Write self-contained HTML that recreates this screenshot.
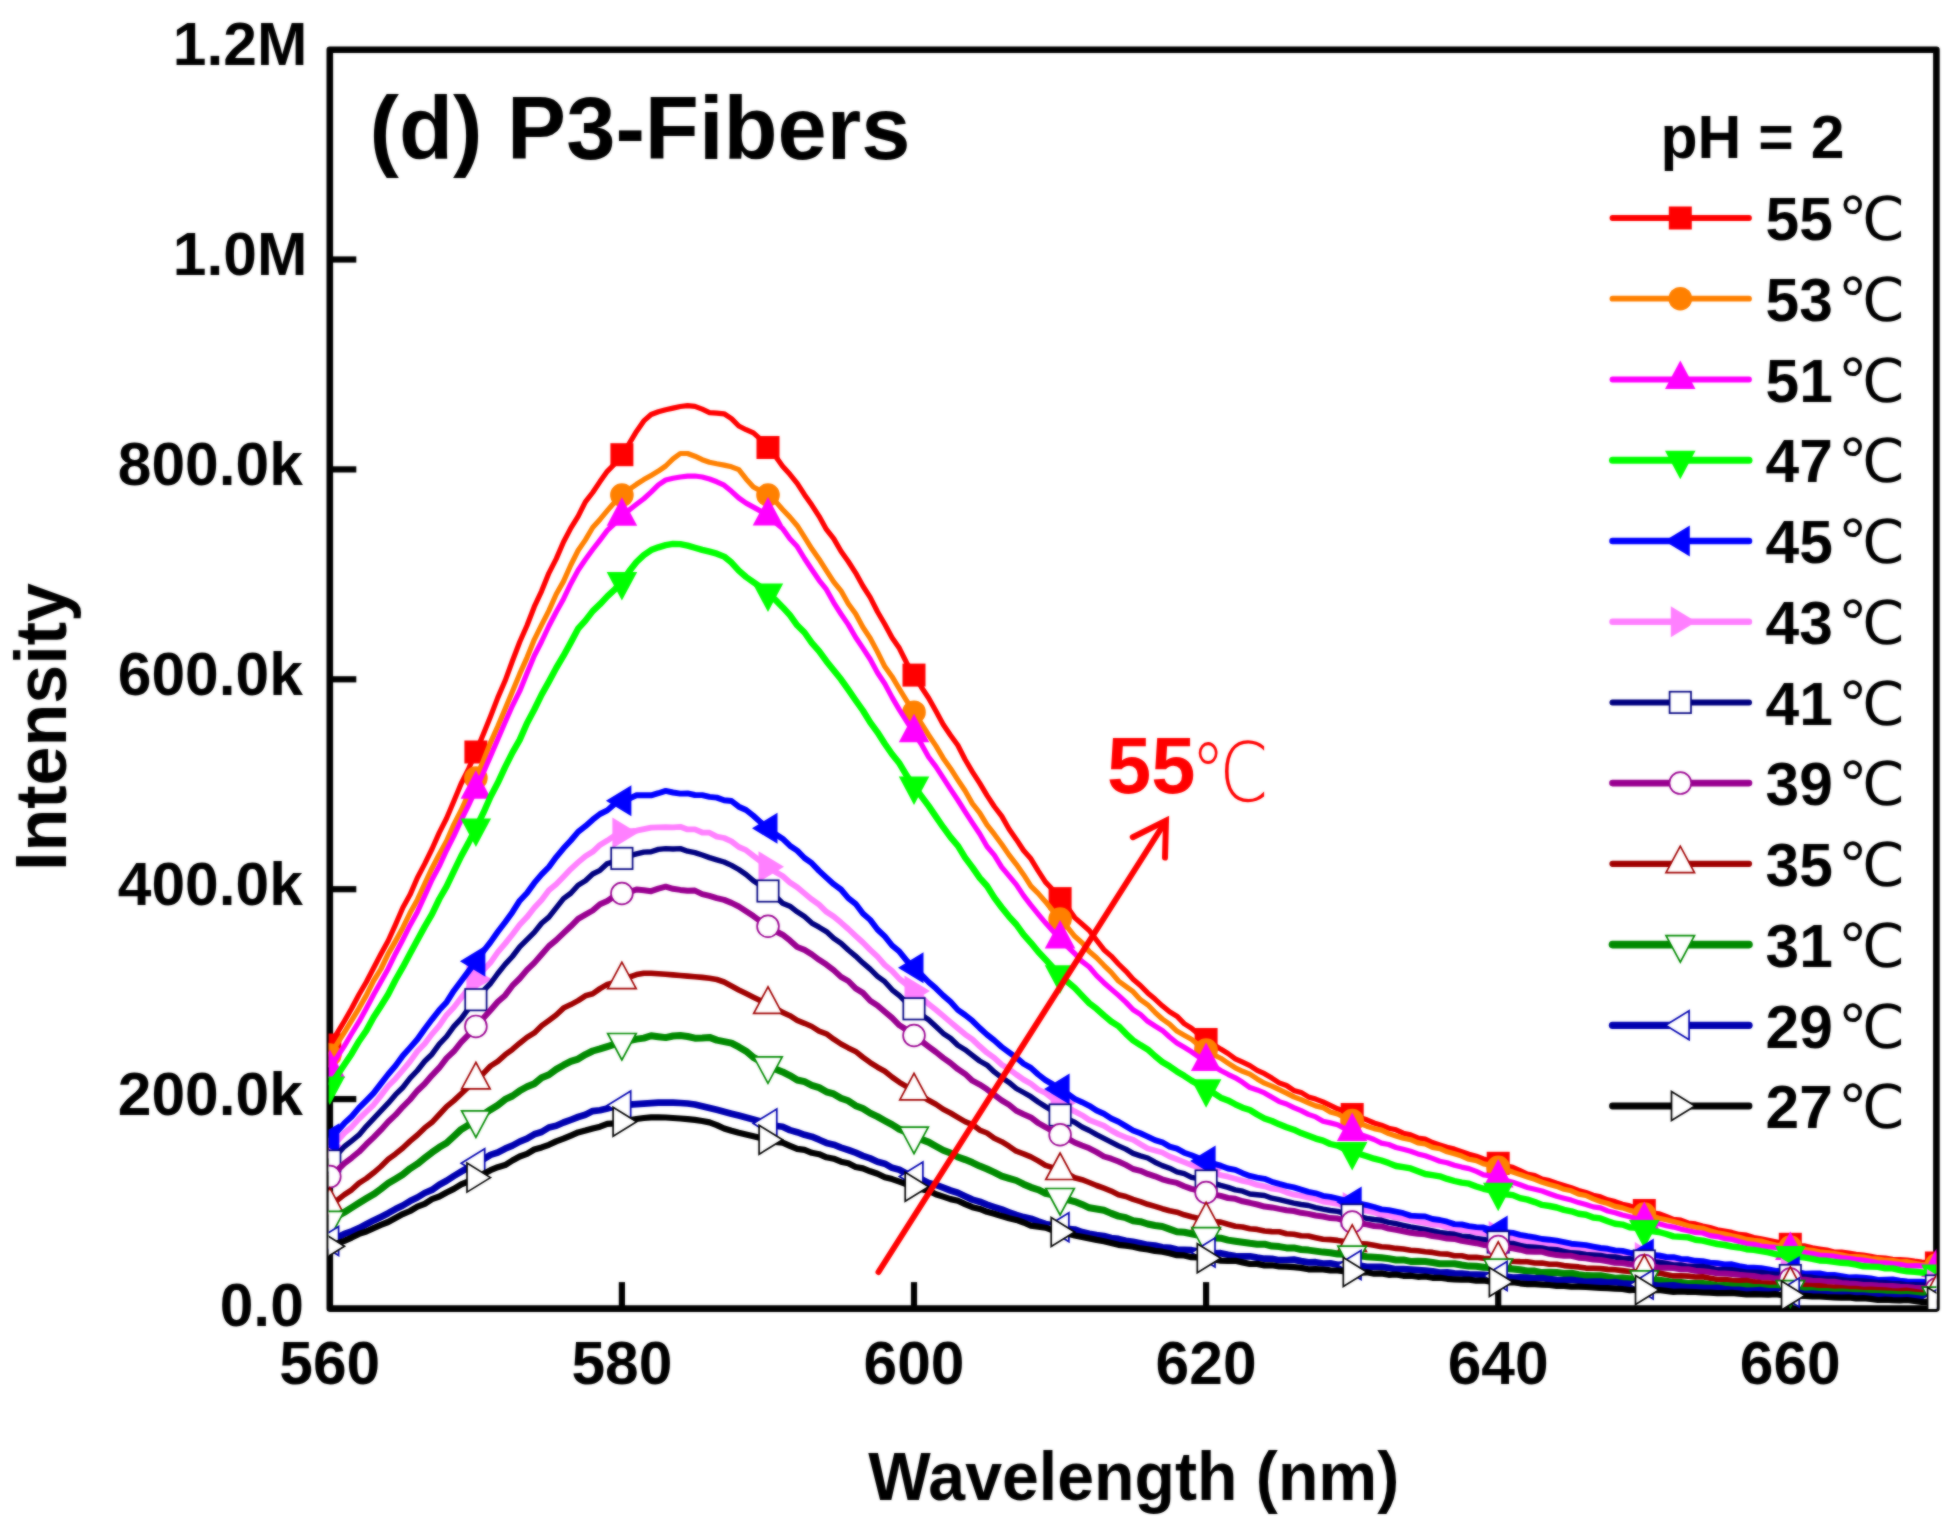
<!DOCTYPE html>
<html lang="en"><head><meta charset="utf-8"><title>(d) P3-Fibers</title>
<style>html,body{margin:0;padding:0;background:#fff}svg{display:block}text{font-family:"Liberation Sans","Noto Sans CJK SC",sans-serif;font-weight:bold;fill:#000}.deg{font-family:"DejaVu Sans","Noto Sans CJK SC",sans-serif;font-weight:400}.degs{font-family:"DejaVu Sans","Noto Serif CJK SC",serif;font-weight:200}</style></head><body>
<svg width="1954" height="1527" viewBox="0 0 1954 1527">
<rect width="1954" height="1527" fill="#fff"/>
<defs><clipPath id="plot"><rect x="328.6" y="49.7" width="1607.8" height="1259.4"/></clipPath><filter id="soft" color-interpolation-filters="sRGB" filterUnits="userSpaceOnUse" x="0" y="0" width="1954" height="1527"><feGaussianBlur stdDeviation="0.85" result="b"/><feComposite in="SourceGraphic" in2="b" operator="arithmetic" k1="0" k2="0.4" k3="0.6" k4="0"/></filter></defs>
<g filter="url(#soft)">
<rect width="1954" height="1527" fill="#fff"/>
<g stroke="#000" stroke-width="6.6" fill="none" stroke-linecap="butt">
<rect x="329.8" y="49.7" width="1606.6" height="1258.9" stroke-linejoin="round"/>
<line x1="329.8" y1="1099.1" x2="356.3" y2="1099.1" stroke-width="6.2"/>
<line x1="329.8" y1="889.2" x2="356.3" y2="889.2" stroke-width="6.2"/>
<line x1="329.8" y1="679.3" x2="356.3" y2="679.3" stroke-width="6.2"/>
<line x1="329.8" y1="469.4" x2="356.3" y2="469.4" stroke-width="6.2"/>
<line x1="329.8" y1="259.5" x2="356.3" y2="259.5" stroke-width="6.2"/>
<line x1="621.9" y1="1308.6" x2="621.9" y2="1282.1" stroke-width="6.2"/>
<line x1="914.0" y1="1308.6" x2="914.0" y2="1282.1" stroke-width="6.2"/>
<line x1="1206.1" y1="1308.6" x2="1206.1" y2="1282.1" stroke-width="6.2"/>
<line x1="1498.2" y1="1308.6" x2="1498.2" y2="1282.1" stroke-width="6.2"/>
<line x1="1790.3" y1="1308.6" x2="1790.3" y2="1282.1" stroke-width="6.2"/>
</g>
<g font-size="60.5" text-anchor="end">
<text x="303.8" y="1325.8">0.0</text>
<text x="302.8" y="1114.9">200.0k</text>
<text x="302.8" y="905.0">400.0k</text>
<text x="302.8" y="695.1">600.0k</text>
<text x="302.8" y="485.2">800.0k</text>
<text x="307.3" y="275.3">1.0M</text>
<text x="307.3" y="65.4">1.2M</text>
</g>
<g font-size="60.5" text-anchor="middle">
<text x="329.8" y="1384.4">560</text>
<text x="621.9" y="1384.4">580</text>
<text x="914.0" y="1384.4">600</text>
<text x="1206.1" y="1384.4">620</text>
<text x="1498.2" y="1384.4">640</text>
<text x="1790.3" y="1384.4">660</text>
</g>
<text x="1133.8" y="1499.5" font-size="68" text-anchor="middle" textLength="531" lengthAdjust="spacingAndGlyphs">Wavelength (nm)</text>
<text transform="translate(65.7,727) rotate(-90)" font-size="72" text-anchor="middle" textLength="288" lengthAdjust="spacingAndGlyphs">Intensity</text>
<text x="369.5" y="158.7" font-size="89" textLength="541" lengthAdjust="spacingAndGlyphs">(d) P3-Fibers</text>
<g clip-path="url(#plot)">
<g><path d="M329.8,1045.0 L337.1,1033.1 L344.4,1021.0 L351.7,1008.3 L359.0,994.5 L366.3,982.0 L373.6,968.0 L380.9,954.0 L388.2,940.7 L395.5,924.6 L402.8,907.7 L410.1,894.6 L417.4,877.7 L424.7,863.9 L432.0,849.0 L439.3,832.6 L446.6,818.3 L453.9,801.1 L461.2,783.5 L468.6,768.8 L475.9,752.0 L483.2,734.4 L490.5,716.5 L497.8,697.6 L505.1,680.8 L512.4,661.0 L519.7,642.0 L527.0,625.5 L534.3,606.7 L541.6,591.1 L548.9,573.1 L556.2,558.9 L563.5,542.0 L570.8,528.1 L578.1,516.3 L585.4,501.8 L592.7,492.5 L600.0,481.6 L607.3,471.3 L614.6,464.0 L621.9,454.7 L629.2,443.6 L636.5,431.4 L643.8,420.9 L651.1,414.5 L658.4,411.7 L665.7,409.7 L673.0,408.1 L680.3,406.5 L687.6,405.6 L694.9,406.3 L702.2,409.2 L709.5,412.6 L716.8,413.1 L724.1,413.8 L731.5,418.6 L738.8,426.0 L746.1,429.7 L753.4,432.9 L760.7,439.4 L768.0,447.5 L775.3,455.9 L782.6,466.2 L789.9,474.3 L797.2,483.3 L804.5,494.7 L811.8,505.1 L819.1,516.3 L826.4,529.4 L833.7,538.6 L841.0,551.3 L848.3,561.5 L855.6,572.8 L862.9,586.0 L870.2,597.4 L877.5,611.7 L884.8,624.2 L892.1,637.7 L899.4,648.3 L906.7,663.0 L914.0,675.1 L921.3,687.0 L928.6,698.0 L935.9,711.1 L943.2,724.5 L950.5,735.3 L957.8,745.3 L965.1,759.5 L972.4,771.8 L979.7,783.2 L987.0,795.4 L994.3,806.5 L1001.7,816.1 L1009.0,829.0 L1016.3,839.4 L1023.6,850.5 L1030.9,858.8 L1038.2,870.8 L1045.5,882.1 L1052.8,889.7 L1060.1,898.6 L1067.4,907.2 L1074.7,917.6 L1082.0,924.0 L1089.3,930.5 L1096.6,940.3 L1103.9,949.7 L1111.2,956.1 L1118.5,964.0 L1125.8,971.1 L1133.1,979.3 L1140.4,985.5 L1147.7,992.9 L1155.0,999.1 L1162.3,1005.8 L1169.6,1011.8 L1176.9,1016.2 L1184.2,1023.6 L1191.5,1028.2 L1198.8,1034.5 L1206.1,1039.5 L1213.4,1044.3 L1220.7,1049.1 L1228.0,1053.5 L1235.3,1058.8 L1242.6,1062.2 L1249.9,1065.6 L1257.2,1070.4 L1264.5,1073.7 L1271.9,1078.1 L1279.2,1082.9 L1286.5,1085.5 L1293.8,1090.4 L1301.1,1092.4 L1308.4,1096.9 L1315.7,1099.1 L1323.0,1101.9 L1330.3,1105.4 L1337.6,1108.8 L1344.9,1111.5 L1352.2,1114.5 L1359.5,1117.4 L1366.8,1119.8 L1374.1,1123.0 L1381.4,1125.2 L1388.7,1128.2 L1396.0,1129.8 L1403.3,1133.2 L1410.6,1134.9 L1417.9,1138.0 L1425.2,1139.1 L1432.5,1142.6 L1439.8,1144.9 L1447.1,1147.2 L1454.4,1149.1 L1461.7,1151.7 L1469.0,1154.2 L1476.3,1156.3 L1483.6,1158.9 L1490.9,1160.9 L1498.2,1163.3 L1505.5,1165.7 L1512.8,1167.3 L1520.1,1170.6 L1527.4,1174.1 L1534.8,1175.6 L1542.1,1179.1 L1549.4,1180.6 L1556.7,1183.3 L1564.0,1185.5 L1571.3,1187.7 L1578.6,1190.4 L1585.9,1192.5 L1593.2,1195.2 L1600.5,1196.9 L1607.8,1199.8 L1615.1,1201.6 L1622.4,1204.3 L1629.7,1205.9 L1637.0,1208.5 L1644.3,1210.5 L1651.6,1212.5 L1658.9,1213.7 L1666.2,1216.4 L1673.5,1219.3 L1680.8,1220.2 L1688.1,1223.0 L1695.4,1223.9 L1702.7,1226.0 L1710.0,1227.6 L1717.3,1229.8 L1724.6,1231.0 L1731.9,1232.4 L1739.2,1234.4 L1746.5,1235.1 L1753.8,1237.5 L1761.1,1238.9 L1768.4,1240.4 L1775.7,1241.8 L1783.0,1243.1 L1790.3,1244.3 L1797.6,1245.5 L1805.0,1245.9 L1812.3,1247.8 L1819.6,1249.0 L1826.9,1250.1 L1834.2,1252.1 L1841.5,1252.2 L1848.8,1253.1 L1856.1,1254.3 L1863.4,1255.0 L1870.7,1256.2 L1878.0,1257.7 L1885.3,1258.0 L1892.6,1259.3 L1899.9,1259.6 L1907.2,1260.0 L1914.5,1261.1 L1921.8,1262.0 L1929.1,1262.4 L1936.4,1263.0" fill="none" stroke="#ff0000" stroke-width="5.2" stroke-linejoin="round" stroke-linecap="butt"/>
<rect x="318.3" y="1033.5" width="23.0" height="23.0" fill="#ff0000"/>
<rect x="464.4" y="740.5" width="23.0" height="23.0" fill="#ff0000"/>
<rect x="610.4" y="443.2" width="23.0" height="23.0" fill="#ff0000"/>
<rect x="756.5" y="436.0" width="23.0" height="23.0" fill="#ff0000"/>
<rect x="902.5" y="663.6" width="23.0" height="23.0" fill="#ff0000"/>
<rect x="1048.6" y="887.1" width="23.0" height="23.0" fill="#ff0000"/>
<rect x="1194.6" y="1028.0" width="23.0" height="23.0" fill="#ff0000"/>
<rect x="1340.7" y="1103.0" width="23.0" height="23.0" fill="#ff0000"/>
<rect x="1486.7" y="1151.8" width="23.0" height="23.0" fill="#ff0000"/>
<rect x="1632.8" y="1199.0" width="23.0" height="23.0" fill="#ff0000"/>
<rect x="1778.8" y="1232.8" width="23.0" height="23.0" fill="#ff0000"/>
<rect x="1924.9" y="1251.5" width="23.0" height="23.0" fill="#ff0000"/>
</g>
<g><path d="M329.8,1055.0 L337.1,1043.8 L344.4,1032.3 L351.7,1020.3 L359.0,1008.3 L366.3,995.4 L373.6,980.8 L380.9,969.0 L388.2,953.9 L395.5,941.1 L402.8,927.7 L410.1,912.8 L417.4,899.7 L424.7,883.8 L432.0,868.2 L439.3,854.2 L446.6,841.0 L453.9,824.4 L461.2,810.3 L468.6,793.9 L475.9,778.0 L483.2,761.3 L490.5,742.6 L497.8,726.3 L505.1,708.9 L512.4,691.4 L519.7,673.9 L527.0,657.6 L534.3,639.6 L541.6,624.9 L548.9,610.6 L556.2,594.3 L563.5,581.4 L570.8,565.0 L578.1,550.5 L585.4,539.9 L592.7,527.5 L600.0,519.4 L607.3,510.7 L614.6,502.2 L621.9,495.1 L629.2,489.3 L636.5,484.3 L643.8,479.6 L651.1,475.4 L658.4,471.1 L665.7,466.0 L673.0,458.9 L680.3,453.5 L687.6,453.5 L694.9,456.2 L702.2,459.7 L709.5,462.3 L716.8,463.8 L724.1,465.1 L731.5,466.8 L738.8,469.7 L746.1,478.9 L753.4,487.0 L760.7,490.9 L768.0,495.0 L775.3,501.1 L782.6,509.5 L789.9,517.1 L797.2,525.7 L804.5,537.1 L811.8,548.8 L819.1,559.2 L826.4,570.6 L833.7,581.8 L841.0,590.8 L848.3,603.8 L855.6,613.8 L862.9,627.3 L870.2,638.2 L877.5,651.9 L884.8,666.6 L892.1,676.7 L899.4,689.0 L906.7,700.8 L914.0,712.2 L921.3,723.4 L928.6,735.0 L935.9,745.9 L943.2,758.2 L950.5,768.4 L957.8,779.8 L965.1,790.8 L972.4,803.6 L979.7,812.8 L987.0,824.9 L994.3,834.2 L1001.7,844.2 L1009.0,854.9 L1016.3,864.3 L1023.6,874.7 L1030.9,886.1 L1038.2,893.4 L1045.5,901.7 L1052.8,910.9 L1060.1,919.1 L1067.4,927.1 L1074.7,936.3 L1082.0,942.7 L1089.3,951.5 L1096.6,957.8 L1103.9,965.3 L1111.2,972.4 L1118.5,981.0 L1125.8,986.4 L1133.1,991.7 L1140.4,999.7 L1147.7,1004.8 L1155.0,1012.3 L1162.3,1019.0 L1169.6,1024.2 L1176.9,1031.1 L1184.2,1035.2 L1191.5,1039.3 L1198.8,1045.3 L1206.1,1050.0 L1213.4,1054.5 L1220.7,1058.2 L1228.0,1063.1 L1235.3,1067.8 L1242.6,1071.3 L1249.9,1074.1 L1257.2,1078.9 L1264.5,1083.2 L1271.9,1086.2 L1279.2,1089.6 L1286.5,1093.1 L1293.8,1096.9 L1301.1,1099.6 L1308.4,1102.8 L1315.7,1105.9 L1323.0,1107.6 L1330.3,1111.9 L1337.6,1114.0 L1344.9,1117.7 L1352.2,1120.5 L1359.5,1123.3 L1366.8,1126.2 L1374.1,1128.6 L1381.4,1130.1 L1388.7,1133.6 L1396.0,1136.0 L1403.3,1138.3 L1410.6,1139.7 L1417.9,1142.9 L1425.2,1144.0 L1432.5,1147.4 L1439.8,1148.7 L1447.1,1151.8 L1454.4,1153.8 L1461.7,1156.1 L1469.0,1159.3 L1476.3,1160.6 L1483.6,1163.9 L1490.9,1165.1 L1498.2,1167.4 L1505.5,1169.8 L1512.8,1172.1 L1520.1,1174.6 L1527.4,1176.9 L1534.8,1179.4 L1542.1,1182.2 L1549.4,1184.4 L1556.7,1186.4 L1564.0,1189.3 L1571.3,1190.8 L1578.6,1194.1 L1585.9,1195.5 L1593.2,1198.9 L1600.5,1201.5 L1607.8,1203.5 L1615.1,1206.4 L1622.4,1207.9 L1629.7,1210.4 L1637.0,1212.0 L1644.3,1214.0 L1651.6,1215.9 L1658.9,1218.2 L1666.2,1219.7 L1673.5,1221.5 L1680.8,1223.5 L1688.1,1225.7 L1695.4,1227.2 L1702.7,1228.3 L1710.0,1230.7 L1717.3,1232.7 L1724.6,1234.1 L1731.9,1235.8 L1739.2,1237.3 L1746.5,1239.4 L1753.8,1240.4 L1761.1,1241.0 L1768.4,1243.2 L1775.7,1245.1 L1783.0,1245.8 L1790.3,1247.0 L1797.6,1248.2 L1805.0,1249.7 L1812.3,1250.4 L1819.6,1251.9 L1826.9,1252.6 L1834.2,1253.6 L1841.5,1254.7 L1848.8,1256.6 L1856.1,1256.7 L1863.4,1257.0 L1870.7,1258.5 L1878.0,1259.0 L1885.3,1260.2 L1892.6,1260.5 L1899.9,1261.8 L1907.2,1261.7 L1914.5,1263.2 L1921.8,1264.6 L1929.1,1264.5 L1936.4,1265.0" fill="none" stroke="#ff8000" stroke-width="5.2" stroke-linejoin="round" stroke-linecap="butt"/>
<circle cx="329.8" cy="1055.0" r="11.8" fill="#ff8000"/>
<circle cx="475.9" cy="778.0" r="11.8" fill="#ff8000"/>
<circle cx="621.9" cy="495.1" r="11.8" fill="#ff8000"/>
<circle cx="768.0" cy="495.0" r="11.8" fill="#ff8000"/>
<circle cx="914.0" cy="712.2" r="11.8" fill="#ff8000"/>
<circle cx="1060.1" cy="919.1" r="11.8" fill="#ff8000"/>
<circle cx="1206.1" cy="1050.0" r="11.8" fill="#ff8000"/>
<circle cx="1352.2" cy="1120.5" r="11.8" fill="#ff8000"/>
<circle cx="1498.2" cy="1167.4" r="11.8" fill="#ff8000"/>
<circle cx="1644.3" cy="1214.0" r="11.8" fill="#ff8000"/>
<circle cx="1790.3" cy="1247.0" r="11.8" fill="#ff8000"/>
<circle cx="1936.4" cy="1265.0" r="11.8" fill="#ff8000"/>
</g>
<g><path d="M329.8,1068.5 L337.1,1057.2 L344.4,1045.8 L351.7,1033.5 L359.0,1021.7 L366.3,1008.5 L373.6,994.7 L380.9,981.8 L388.2,968.7 L395.5,953.7 L402.8,939.8 L410.1,925.2 L417.4,911.9 L424.7,895.9 L432.0,879.7 L439.3,866.1 L446.6,850.2 L453.9,835.9 L461.2,820.0 L468.6,805.1 L475.9,789.3 L483.2,773.0 L490.5,756.1 L497.8,739.2 L505.1,722.3 L512.4,705.8 L519.7,691.2 L527.0,673.2 L534.3,655.7 L541.6,641.5 L548.9,626.0 L556.2,612.0 L563.5,598.9 L570.8,583.7 L578.1,570.2 L585.4,559.5 L592.7,549.5 L600.0,540.1 L607.3,530.4 L614.6,523.5 L621.9,516.3 L629.2,510.0 L636.5,504.3 L643.8,498.7 L651.1,492.1 L658.4,484.9 L665.7,480.0 L673.0,478.2 L680.3,477.0 L687.6,476.2 L694.9,476.0 L702.2,477.0 L709.5,479.0 L716.8,481.8 L724.1,485.2 L731.5,491.3 L738.8,498.0 L746.1,503.1 L753.4,507.1 L760.7,511.1 L768.0,516.0 L775.3,522.4 L782.6,528.4 L789.9,538.7 L797.2,546.6 L804.5,558.5 L811.8,569.5 L819.1,580.3 L826.4,589.4 L833.7,602.6 L841.0,614.0 L848.3,624.6 L855.6,637.2 L862.9,648.1 L870.2,659.2 L877.5,672.7 L884.8,683.7 L892.1,697.4 L899.4,709.9 L906.7,721.4 L914.0,732.8 L921.3,744.0 L928.6,757.0 L935.9,766.6 L943.2,777.9 L950.5,789.2 L957.8,800.0 L965.1,811.6 L972.4,822.8 L979.7,833.7 L987.0,846.5 L994.3,855.2 L1001.7,867.2 L1009.0,875.9 L1016.3,884.6 L1023.6,895.6 L1030.9,905.1 L1038.2,914.1 L1045.5,922.8 L1052.8,931.1 L1060.1,939.0 L1067.4,946.6 L1074.7,953.5 L1082.0,961.4 L1089.3,967.0 L1096.6,975.6 L1103.9,982.7 L1111.2,989.1 L1118.5,995.4 L1125.8,1002.1 L1133.1,1009.7 L1140.4,1014.4 L1147.7,1021.3 L1155.0,1026.0 L1162.3,1030.4 L1169.6,1037.0 L1176.9,1043.0 L1184.2,1047.3 L1191.5,1051.8 L1198.8,1057.0 L1206.1,1061.5 L1213.4,1065.9 L1220.7,1070.5 L1228.0,1074.3 L1235.3,1077.8 L1242.6,1082.3 L1249.9,1087.6 L1257.2,1089.9 L1264.5,1092.9 L1271.9,1097.2 L1279.2,1101.6 L1286.5,1104.0 L1293.8,1107.6 L1301.1,1110.6 L1308.4,1114.4 L1315.7,1116.9 L1323.0,1121.2 L1330.3,1122.9 L1337.6,1124.7 L1344.9,1128.7 L1352.2,1131.5 L1359.5,1134.3 L1366.8,1136.8 L1374.1,1139.5 L1381.4,1143.1 L1388.7,1144.5 L1396.0,1147.5 L1403.3,1149.3 L1410.6,1151.2 L1417.9,1153.9 L1425.2,1155.8 L1432.5,1158.4 L1439.8,1161.2 L1447.1,1162.8 L1454.4,1165.3 L1461.7,1167.1 L1469.0,1168.6 L1476.3,1171.4 L1483.6,1174.8 L1490.9,1175.8 L1498.2,1178.0 L1505.5,1180.2 L1512.8,1182.2 L1520.1,1184.7 L1527.4,1187.5 L1534.8,1189.2 L1542.1,1191.0 L1549.4,1193.7 L1556.7,1196.3 L1564.0,1198.2 L1571.3,1200.1 L1578.6,1202.6 L1585.9,1204.5 L1593.2,1206.9 L1600.5,1207.9 L1607.8,1211.0 L1615.1,1212.7 L1622.4,1215.0 L1629.7,1216.8 L1637.0,1218.7 L1644.3,1220.5 L1651.6,1222.2 L1658.9,1223.8 L1666.2,1225.7 L1673.5,1227.1 L1680.8,1229.1 L1688.1,1230.7 L1695.4,1232.4 L1702.7,1233.0 L1710.0,1235.6 L1717.3,1236.6 L1724.6,1238.6 L1731.9,1239.4 L1739.2,1241.6 L1746.5,1243.6 L1753.8,1244.3 L1761.1,1246.0 L1768.4,1246.9 L1775.7,1247.4 L1783.0,1249.3 L1790.3,1250.4 L1797.6,1251.5 L1805.0,1252.6 L1812.3,1253.6 L1819.6,1255.1 L1826.9,1255.6 L1834.2,1256.2 L1841.5,1257.6 L1848.8,1258.4 L1856.1,1259.4 L1863.4,1260.1 L1870.7,1261.2 L1878.0,1262.9 L1885.3,1262.8 L1892.6,1263.7 L1899.9,1264.3 L1907.2,1265.8 L1914.5,1265.7 L1921.8,1265.8 L1929.1,1266.9 L1936.4,1267.5" fill="none" stroke="#ff00ff" stroke-width="5.2" stroke-linejoin="round" stroke-linecap="butt"/>
<polygon points="329.8,1049.5 314.6,1078.0 345.1,1078.0" fill="#ff00ff"/>
<polygon points="475.9,770.3 460.6,798.8 491.1,798.8" fill="#ff00ff"/>
<polygon points="621.9,497.3 606.7,525.8 637.2,525.8" fill="#ff00ff"/>
<polygon points="768.0,497.0 752.7,525.5 783.2,525.5" fill="#ff00ff"/>
<polygon points="914.0,713.8 898.8,742.3 929.3,742.3" fill="#ff00ff"/>
<polygon points="1060.1,920.0 1044.8,948.5 1075.3,948.5" fill="#ff00ff"/>
<polygon points="1206.1,1042.5 1190.9,1071.0 1221.4,1071.0" fill="#ff00ff"/>
<polygon points="1352.2,1112.5 1336.9,1141.0 1367.4,1141.0" fill="#ff00ff"/>
<polygon points="1498.2,1159.0 1483.0,1187.5 1513.5,1187.5" fill="#ff00ff"/>
<polygon points="1644.3,1201.5 1629.0,1230.0 1659.5,1230.0" fill="#ff00ff"/>
<polygon points="1790.3,1231.4 1775.1,1259.9 1805.6,1259.9" fill="#ff00ff"/>
<polygon points="1936.4,1248.5 1921.2,1277.0 1951.7,1277.0" fill="#ff00ff"/>
</g>
<g><path d="M329.8,1086.0 L337.1,1075.6 L344.4,1064.6 L351.7,1053.7 L359.0,1041.2 L366.3,1030.6 L373.6,1017.3 L380.9,1005.9 L388.2,994.2 L395.5,980.0 L402.8,967.2 L410.1,953.6 L417.4,940.0 L424.7,926.6 L432.0,914.1 L439.3,899.0 L446.6,886.4 L453.9,871.1 L461.2,856.1 L468.6,842.6 L475.9,828.1 L483.2,813.2 L490.5,796.7 L497.8,782.8 L505.1,767.1 L512.4,752.6 L519.7,739.9 L527.0,723.2 L534.3,709.5 L541.6,694.6 L548.9,681.6 L556.2,668.0 L563.5,655.7 L570.8,642.4 L578.1,628.7 L585.4,620.6 L592.7,611.1 L600.0,604.2 L607.3,596.4 L614.6,589.7 L621.9,581.5 L629.2,571.3 L636.5,562.0 L643.8,555.1 L651.1,550.1 L658.4,547.3 L665.7,545.2 L673.0,543.9 L680.3,544.1 L687.6,545.6 L694.9,547.8 L702.2,549.9 L709.5,551.7 L716.8,553.7 L724.1,556.6 L731.5,562.6 L738.8,570.7 L746.1,577.0 L753.4,582.1 L760.7,587.2 L768.0,593.0 L775.3,599.8 L782.6,607.2 L789.9,615.2 L797.2,625.3 L804.5,632.5 L811.8,642.8 L819.1,651.1 L826.4,661.2 L833.7,670.3 L841.0,679.3 L848.3,689.7 L855.6,700.3 L862.9,710.5 L870.2,722.4 L877.5,732.3 L884.8,743.7 L892.1,754.3 L899.4,763.3 L906.7,775.7 L914.0,786.0 L921.3,796.1 L928.6,805.9 L935.9,816.6 L943.2,827.2 L950.5,837.1 L957.8,845.7 L965.1,857.6 L972.4,867.3 L979.7,877.8 L987.0,886.0 L994.3,897.6 L1001.7,907.5 L1009.0,916.6 L1016.3,924.5 L1023.6,934.7 L1030.9,942.8 L1038.2,951.8 L1045.5,959.5 L1052.8,967.5 L1060.1,974.8 L1067.4,981.8 L1074.7,987.9 L1082.0,995.6 L1089.3,1003.2 L1096.6,1008.8 L1103.9,1015.4 L1111.2,1021.5 L1118.5,1026.1 L1125.8,1033.6 L1133.1,1040.3 L1140.4,1045.1 L1147.7,1049.4 L1155.0,1056.0 L1162.3,1061.9 L1169.6,1066.3 L1176.9,1071.4 L1184.2,1075.8 L1191.5,1080.6 L1198.8,1084.7 L1206.1,1088.8 L1213.4,1092.8 L1220.7,1097.7 L1228.0,1100.4 L1235.3,1104.3 L1242.6,1107.7 L1249.9,1110.0 L1257.2,1114.5 L1264.5,1118.5 L1271.9,1121.0 L1279.2,1124.3 L1286.5,1127.2 L1293.8,1129.7 L1301.1,1133.1 L1308.4,1135.8 L1315.7,1138.6 L1323.0,1140.6 L1330.3,1144.0 L1337.6,1145.7 L1344.9,1149.1 L1352.2,1151.6 L1359.5,1154.0 L1366.8,1156.3 L1374.1,1158.7 L1381.4,1160.5 L1388.7,1163.1 L1396.0,1166.0 L1403.3,1167.2 L1410.6,1168.4 L1417.9,1171.2 L1425.2,1174.0 L1432.5,1175.1 L1439.8,1176.3 L1447.1,1178.9 L1454.4,1181.0 L1461.7,1182.7 L1469.0,1183.7 L1476.3,1186.5 L1483.6,1188.8 L1490.9,1190.3 L1498.2,1192.2 L1505.5,1194.2 L1512.8,1195.1 L1520.1,1198.1 L1527.4,1199.6 L1534.8,1202.1 L1542.1,1204.9 L1549.4,1206.0 L1556.7,1207.5 L1564.0,1209.9 L1571.3,1211.3 L1578.6,1213.8 L1585.9,1214.7 L1593.2,1217.5 L1600.5,1218.4 L1607.8,1221.2 L1615.1,1223.7 L1622.4,1224.6 L1629.7,1227.3 L1637.0,1227.9 L1644.3,1229.5 L1651.6,1231.0 L1658.9,1232.0 L1666.2,1234.0 L1673.5,1236.4 L1680.8,1236.9 L1688.1,1237.4 L1695.4,1239.7 L1702.7,1240.6 L1710.0,1242.4 L1717.3,1244.0 L1724.6,1245.0 L1731.9,1246.5 L1739.2,1247.5 L1746.5,1249.2 L1753.8,1249.9 L1761.1,1251.2 L1768.4,1252.3 L1775.7,1254.2 L1783.0,1254.5 L1790.3,1255.6 L1797.6,1256.7 L1805.0,1257.7 L1812.3,1258.8 L1819.6,1260.5 L1826.9,1260.8 L1834.2,1261.8 L1841.5,1262.8 L1848.8,1263.3 L1856.1,1264.7 L1863.4,1266.3 L1870.7,1266.6 L1878.0,1266.9 L1885.3,1268.4 L1892.6,1268.4 L1899.9,1270.1 L1907.2,1271.3 L1914.5,1271.7 L1921.8,1272.5 L1929.1,1273.3 L1936.4,1274.0" fill="none" stroke="#00ff00" stroke-width="6.4" stroke-linejoin="round" stroke-linecap="butt"/>
<polygon points="329.8,1105.0 314.6,1076.5 345.1,1076.5" fill="#00ff00"/>
<polygon points="475.9,847.1 460.6,818.6 491.1,818.6" fill="#00ff00"/>
<polygon points="621.9,600.5 606.7,572.0 637.2,572.0" fill="#00ff00"/>
<polygon points="768.0,612.0 752.7,583.5 783.2,583.5" fill="#00ff00"/>
<polygon points="914.0,805.0 898.8,776.5 929.3,776.5" fill="#00ff00"/>
<polygon points="1060.1,993.8 1044.8,965.3 1075.3,965.3" fill="#00ff00"/>
<polygon points="1206.1,1107.8 1190.9,1079.3 1221.4,1079.3" fill="#00ff00"/>
<polygon points="1352.2,1170.6 1336.9,1142.1 1367.4,1142.1" fill="#00ff00"/>
<polygon points="1498.2,1211.2 1483.0,1182.7 1513.5,1182.7" fill="#00ff00"/>
<polygon points="1644.3,1248.5 1629.0,1220.0 1659.5,1220.0" fill="#00ff00"/>
<polygon points="1790.3,1274.6 1775.1,1246.1 1805.6,1246.1" fill="#00ff00"/>
<polygon points="1936.4,1293.0 1921.2,1264.5 1951.7,1264.5" fill="#00ff00"/>
</g>
<g><path d="M329.8,1148.0 L337.1,1141.2 L344.4,1133.0 L351.7,1126.9 L359.0,1118.9 L366.3,1111.7 L373.6,1104.8 L380.9,1095.6 L388.2,1086.0 L395.5,1078.7 L402.8,1070.2 L410.1,1061.4 L417.4,1051.2 L424.7,1043.7 L432.0,1034.1 L439.3,1025.7 L446.6,1014.9 L453.9,1007.2 L461.2,997.7 L468.6,988.5 L475.9,979.3 L483.2,970.2 L490.5,962.6 L497.8,952.2 L505.1,943.6 L512.4,934.5 L519.7,924.8 L527.0,917.1 L534.3,907.8 L541.6,900.1 L548.9,890.3 L556.2,884.3 L563.5,876.7 L570.8,869.1 L578.1,862.4 L585.4,856.2 L592.7,851.8 L600.0,844.9 L607.3,840.6 L614.6,835.7 L621.9,833.0 L629.2,831.4 L636.5,830.7 L643.8,829.1 L651.1,827.6 L658.4,827.3 L665.7,827.2 L673.0,827.4 L680.3,826.8 L687.6,829.4 L694.9,829.3 L702.2,832.5 L709.5,832.7 L716.8,836.6 L724.1,838.0 L731.5,841.4 L738.8,847.0 L746.1,850.2 L753.4,855.9 L760.7,861.3 L768.0,866.7 L775.3,871.9 L782.6,876.0 L789.9,882.5 L797.2,887.2 L804.5,893.4 L811.8,899.4 L819.1,904.7 L826.4,911.8 L833.7,916.5 L841.0,922.6 L848.3,929.0 L855.6,935.9 L862.9,942.5 L870.2,949.9 L877.5,956.7 L884.8,965.0 L892.1,971.0 L899.4,978.9 L906.7,984.6 L914.0,991.0 L921.3,997.2 L928.6,1004.0 L935.9,1009.7 L943.2,1015.9 L950.5,1022.1 L957.8,1028.3 L965.1,1034.3 L972.4,1039.3 L979.7,1046.3 L987.0,1052.7 L994.3,1057.8 L1001.7,1064.7 L1009.0,1069.0 L1016.3,1074.5 L1023.6,1079.6 L1030.9,1083.7 L1038.2,1089.5 L1045.5,1093.0 L1052.8,1098.7 L1060.1,1103.0 L1067.4,1107.1 L1074.7,1111.4 L1082.0,1115.2 L1089.3,1120.0 L1096.6,1122.9 L1103.9,1125.8 L1111.2,1130.4 L1118.5,1134.4 L1125.8,1137.4 L1133.1,1139.8 L1140.4,1144.2 L1147.7,1148.5 L1155.0,1150.5 L1162.3,1152.5 L1169.6,1156.5 L1176.9,1159.2 L1184.2,1162.1 L1191.5,1165.1 L1198.8,1167.3 L1206.1,1169.8 L1213.4,1172.2 L1220.7,1175.1 L1228.0,1176.7 L1235.3,1178.8 L1242.6,1180.9 L1249.9,1182.4 L1257.2,1184.9 L1264.5,1186.3 L1271.9,1188.7 L1279.2,1189.6 L1286.5,1192.4 L1293.8,1194.7 L1301.1,1195.9 L1308.4,1197.6 L1315.7,1199.3 L1323.0,1201.6 L1330.3,1202.6 L1337.6,1203.8 L1344.9,1205.9 L1352.2,1207.5 L1359.5,1209.1 L1366.8,1211.0 L1374.1,1212.3 L1381.4,1215.0 L1388.7,1215.5 L1396.0,1217.6 L1403.3,1218.6 L1410.6,1220.2 L1417.9,1221.6 L1425.2,1222.9 L1432.5,1224.5 L1439.8,1224.9 L1447.1,1227.3 L1454.4,1229.4 L1461.7,1230.1 L1469.0,1230.6 L1476.3,1232.7 L1483.6,1233.2 L1490.9,1235.3 L1498.2,1236.5 L1505.5,1237.7 L1512.8,1238.4 L1520.1,1240.1 L1527.4,1241.0 L1534.8,1242.4 L1542.1,1242.7 L1549.4,1244.6 L1556.7,1245.9 L1564.0,1246.7 L1571.3,1247.5 L1578.6,1248.8 L1585.9,1250.8 L1593.2,1250.8 L1600.5,1251.7 L1607.8,1252.8 L1615.1,1253.7 L1622.4,1254.7 L1629.7,1255.3 L1637.0,1256.6 L1644.3,1257.5 L1651.6,1258.4 L1658.9,1259.2 L1666.2,1260.2 L1673.5,1261.2 L1680.8,1261.9 L1688.1,1262.8 L1695.4,1263.7 L1702.7,1265.3 L1710.0,1265.3 L1717.3,1266.1 L1724.6,1266.9 L1731.9,1267.4 L1739.2,1268.5 L1746.5,1269.5 L1753.8,1270.0 L1761.1,1270.8 L1768.4,1271.5 L1775.7,1271.8 L1783.0,1272.8 L1790.3,1273.5 L1797.6,1274.1 L1805.0,1274.9 L1812.3,1275.4 L1819.6,1276.0 L1826.9,1276.7 L1834.2,1276.8 L1841.5,1277.9 L1848.8,1279.2 L1856.1,1279.0 L1863.4,1279.5 L1870.7,1280.1 L1878.0,1280.9 L1885.3,1281.2 L1892.6,1281.7 L1899.9,1282.2 L1907.2,1282.1 L1914.5,1283.2 L1921.8,1282.9 L1929.1,1284.1 L1936.4,1284.5" fill="none" stroke="#ff80ff" stroke-width="5.8" stroke-linejoin="round" stroke-linecap="butt"/>
<polygon points="345.8,1148.0 320.3,1132.5 320.3,1163.5" fill="#ff80ff"/>
<polygon points="491.9,979.3 466.4,963.8 466.4,994.8" fill="#ff80ff"/>
<polygon points="637.9,833.0 612.4,817.5 612.4,848.5" fill="#ff80ff"/>
<polygon points="784.0,866.7 758.5,851.2 758.5,882.2" fill="#ff80ff"/>
<polygon points="930.0,991.0 904.5,975.5 904.5,1006.5" fill="#ff80ff"/>
<polygon points="1076.1,1103.0 1050.6,1087.5 1050.6,1118.5" fill="#ff80ff"/>
<polygon points="1222.1,1169.8 1196.6,1154.3 1196.6,1185.3" fill="#ff80ff"/>
<polygon points="1368.2,1207.5 1342.7,1192.0 1342.7,1223.0" fill="#ff80ff"/>
<polygon points="1514.2,1236.5 1488.7,1221.0 1488.7,1252.0" fill="#ff80ff"/>
<polygon points="1660.3,1257.5 1634.8,1242.0 1634.8,1273.0" fill="#ff80ff"/>
<polygon points="1806.3,1273.5 1780.8,1258.0 1780.8,1289.0" fill="#ff80ff"/>
<polygon points="1952.4,1284.5 1926.9,1269.0 1926.9,1300.0" fill="#ff80ff"/>
</g>
<g><path d="M329.8,1138.7 L337.1,1131.5 L344.4,1123.2 L351.7,1116.5 L359.0,1107.9 L366.3,1100.6 L373.6,1093.1 L380.9,1083.6 L388.2,1074.2 L395.5,1065.8 L402.8,1055.8 L410.1,1047.6 L417.4,1039.3 L424.7,1029.0 L432.0,1019.3 L439.3,1010.1 L446.6,1002.2 L453.9,990.7 L461.2,980.9 L468.6,971.1 L475.9,961.3 L483.2,951.5 L490.5,942.1 L497.8,931.7 L505.1,922.2 L512.4,912.2 L519.7,900.7 L527.0,893.0 L534.3,882.9 L541.6,874.4 L548.9,867.0 L556.2,857.1 L563.5,848.3 L570.8,840.5 L578.1,831.8 L585.4,826.2 L592.7,819.7 L600.0,814.0 L607.3,810.4 L614.6,804.0 L621.9,800.8 L629.2,798.6 L636.5,795.3 L643.8,795.3 L651.1,795.3 L658.4,793.2 L665.7,790.9 L673.0,792.5 L680.3,793.6 L687.6,793.4 L694.9,795.0 L702.2,795.1 L709.5,796.9 L716.8,797.6 L724.1,800.2 L731.5,801.0 L738.8,806.7 L746.1,810.0 L753.4,815.8 L760.7,822.4 L768.0,828.3 L775.3,834.0 L782.6,838.7 L789.9,845.7 L797.2,850.6 L804.5,858.0 L811.8,863.2 L819.1,870.9 L826.4,877.6 L833.7,884.2 L841.0,889.5 L848.3,898.2 L855.6,903.8 L862.9,913.5 L870.2,919.9 L877.5,929.5 L884.8,936.4 L892.1,945.5 L899.4,951.6 L906.7,960.7 L914.0,967.8 L921.3,974.7 L928.6,982.0 L935.9,988.3 L943.2,995.5 L950.5,1001.8 L957.8,1009.9 L965.1,1015.0 L972.4,1020.8 L979.7,1028.0 L987.0,1034.6 L994.3,1040.4 L1001.7,1047.0 L1009.0,1052.4 L1016.3,1057.6 L1023.6,1063.8 L1030.9,1067.9 L1038.2,1074.5 L1045.5,1080.1 L1052.8,1084.4 L1060.1,1089.0 L1067.4,1093.5 L1074.7,1098.9 L1082.0,1102.2 L1089.3,1105.8 L1096.6,1110.5 L1103.9,1113.8 L1111.2,1118.5 L1118.5,1121.8 L1125.8,1126.1 L1133.1,1130.5 L1140.4,1133.3 L1147.7,1136.6 L1155.0,1140.2 L1162.3,1142.3 L1169.6,1146.6 L1176.9,1148.7 L1184.2,1152.7 L1191.5,1155.2 L1198.8,1158.3 L1206.1,1161.0 L1213.4,1163.6 L1220.7,1165.7 L1228.0,1168.5 L1235.3,1169.8 L1242.6,1173.2 L1249.9,1175.9 L1257.2,1177.6 L1264.5,1178.8 L1271.9,1181.8 L1279.2,1183.9 L1286.5,1185.8 L1293.8,1187.4 L1301.1,1189.6 L1308.4,1191.9 L1315.7,1193.3 L1323.0,1195.8 L1330.3,1196.8 L1337.6,1198.5 L1344.9,1200.3 L1352.2,1202.0 L1359.5,1203.7 L1366.8,1205.1 L1374.1,1207.0 L1381.4,1209.4 L1388.7,1210.1 L1396.0,1211.7 L1403.3,1213.2 L1410.6,1215.6 L1417.9,1216.1 L1425.2,1216.5 L1432.5,1219.0 L1439.8,1220.0 L1447.1,1221.7 L1454.4,1224.1 L1461.7,1224.5 L1469.0,1226.1 L1476.3,1227.1 L1483.6,1227.5 L1490.9,1229.7 L1498.2,1231.0 L1505.5,1232.3 L1512.8,1232.9 L1520.1,1234.8 L1527.4,1236.2 L1534.8,1237.3 L1542.1,1239.0 L1549.4,1239.7 L1556.7,1240.7 L1564.0,1242.1 L1571.3,1243.7 L1578.6,1244.4 L1585.9,1245.1 L1593.2,1246.6 L1600.5,1248.0 L1607.8,1248.8 L1615.1,1250.4 L1622.4,1250.9 L1629.7,1252.6 L1637.0,1253.0 L1644.3,1254.0 L1651.6,1255.0 L1658.9,1255.5 L1666.2,1257.0 L1673.5,1257.2 L1680.8,1258.9 L1688.1,1259.3 L1695.4,1260.8 L1702.7,1261.1 L1710.0,1262.6 L1717.3,1263.1 L1724.6,1264.4 L1731.9,1264.3 L1739.2,1266.1 L1746.5,1267.5 L1753.8,1267.7 L1761.1,1268.1 L1768.4,1269.3 L1775.7,1270.9 L1783.0,1270.8 L1790.3,1271.5 L1797.6,1272.2 L1805.0,1273.6 L1812.3,1273.5 L1819.6,1273.5 L1826.9,1274.9 L1834.2,1275.0 L1841.5,1276.1 L1848.8,1277.4 L1856.1,1277.3 L1863.4,1277.6 L1870.7,1278.5 L1878.0,1279.9 L1885.3,1279.6 L1892.6,1279.5 L1899.9,1280.7 L1907.2,1281.5 L1914.5,1281.6 L1921.8,1281.7 L1929.1,1282.6 L1936.4,1283.0" fill="none" stroke="#0000ff" stroke-width="5.9" stroke-linejoin="round" stroke-linecap="butt"/>
<polygon points="313.8,1138.7 339.3,1123.2 339.3,1154.2" fill="#0000ff"/>
<polygon points="459.9,961.3 485.4,945.8 485.4,976.8" fill="#0000ff"/>
<polygon points="605.9,800.8 631.4,785.3 631.4,816.3" fill="#0000ff"/>
<polygon points="752.0,828.3 777.5,812.8 777.5,843.8" fill="#0000ff"/>
<polygon points="898.0,967.8 923.5,952.3 923.5,983.3" fill="#0000ff"/>
<polygon points="1044.1,1089.0 1069.6,1073.5 1069.6,1104.5" fill="#0000ff"/>
<polygon points="1190.1,1161.0 1215.6,1145.5 1215.6,1176.5" fill="#0000ff"/>
<polygon points="1336.2,1202.0 1361.7,1186.5 1361.7,1217.5" fill="#0000ff"/>
<polygon points="1482.2,1231.0 1507.7,1215.5 1507.7,1246.5" fill="#0000ff"/>
<polygon points="1628.3,1254.0 1653.8,1238.5 1653.8,1269.5" fill="#0000ff"/>
<polygon points="1774.3,1271.5 1799.8,1256.0 1799.8,1287.0" fill="#0000ff"/>
<polygon points="1920.4,1283.0 1945.9,1267.5 1945.9,1298.5" fill="#0000ff"/>
</g>
<g><path d="M329.8,1161.0 L337.1,1154.5 L344.4,1146.5 L351.7,1140.8 L359.0,1134.9 L366.3,1126.3 L373.6,1118.6 L380.9,1110.9 L388.2,1103.2 L395.5,1094.7 L402.8,1087.5 L410.1,1078.2 L417.4,1070.5 L424.7,1061.3 L432.0,1054.2 L439.3,1044.1 L446.6,1036.5 L453.9,1026.4 L461.2,1018.6 L468.6,1008.5 L475.9,999.7 L483.2,990.9 L490.5,983.5 L497.8,973.5 L505.1,964.4 L512.4,956.5 L519.7,946.9 L527.0,939.6 L534.3,932.4 L541.6,923.2 L548.9,917.1 L556.2,907.9 L563.5,898.6 L570.8,893.3 L578.1,885.2 L585.4,880.8 L592.7,874.0 L600.0,870.3 L607.3,863.6 L614.6,861.6 L621.9,858.4 L629.2,855.9 L636.5,853.9 L643.8,852.1 L651.1,851.8 L658.4,849.4 L665.7,848.6 L673.0,849.0 L680.3,848.6 L687.6,851.2 L694.9,852.6 L702.2,855.0 L709.5,857.6 L716.8,859.8 L724.1,862.0 L731.5,865.4 L738.8,869.5 L746.1,874.5 L753.4,880.8 L760.7,885.6 L768.0,891.0 L775.3,896.1 L782.6,903.2 L789.9,906.2 L797.2,911.8 L804.5,916.6 L811.8,923.1 L819.1,927.2 L826.4,931.6 L833.7,938.3 L841.0,943.2 L848.3,950.0 L855.6,956.1 L862.9,962.9 L870.2,969.1 L877.5,976.3 L884.8,981.7 L892.1,989.8 L899.4,995.6 L906.7,1002.7 L914.0,1008.8 L921.3,1014.7 L928.6,1019.7 L935.9,1026.5 L943.2,1033.4 L950.5,1038.2 L957.8,1045.3 L965.1,1049.7 L972.4,1055.3 L979.7,1061.0 L987.0,1065.1 L994.3,1071.9 L1001.7,1077.6 L1009.0,1082.4 L1016.3,1088.5 L1023.6,1092.5 L1030.9,1096.7 L1038.2,1102.0 L1045.5,1106.6 L1052.8,1110.8 L1060.1,1115.0 L1067.4,1119.0 L1074.7,1122.2 L1082.0,1127.0 L1089.3,1130.5 L1096.6,1134.7 L1103.9,1138.4 L1111.2,1142.1 L1118.5,1145.9 L1125.8,1149.1 L1133.1,1153.4 L1140.4,1155.9 L1147.7,1158.0 L1155.0,1162.2 L1162.3,1165.6 L1169.6,1168.2 L1176.9,1171.9 L1184.2,1173.7 L1191.5,1177.3 L1198.8,1178.7 L1206.1,1181.0 L1213.4,1183.2 L1220.7,1185.4 L1228.0,1187.4 L1235.3,1189.9 L1242.6,1191.2 L1249.9,1194.0 L1257.2,1194.8 L1264.5,1195.5 L1271.9,1198.2 L1279.2,1199.7 L1286.5,1201.4 L1293.8,1203.1 L1301.1,1204.5 L1308.4,1205.5 L1315.7,1207.6 L1323.0,1209.2 L1330.3,1210.5 L1337.6,1211.4 L1344.9,1213.5 L1352.2,1215.0 L1359.5,1216.5 L1366.8,1218.4 L1374.1,1219.5 L1381.4,1220.3 L1388.7,1222.4 L1396.0,1223.7 L1403.3,1225.3 L1410.6,1226.8 L1417.9,1228.1 L1425.2,1229.3 L1432.5,1230.8 L1439.8,1232.3 L1447.1,1233.5 L1454.4,1234.3 L1461.7,1236.1 L1469.0,1236.6 L1476.3,1238.5 L1483.6,1239.5 L1490.9,1240.9 L1498.2,1242.0 L1505.5,1243.1 L1512.8,1243.4 L1520.1,1245.3 L1527.4,1246.8 L1534.8,1247.3 L1542.1,1248.0 L1549.4,1249.3 L1556.7,1249.7 L1564.0,1251.3 L1571.3,1252.8 L1578.6,1253.2 L1585.9,1254.5 L1593.2,1255.0 L1600.5,1255.4 L1607.8,1256.8 L1615.1,1257.0 L1622.4,1258.5 L1629.7,1258.6 L1637.0,1260.2 L1644.3,1261.0 L1651.6,1261.8 L1658.9,1262.2 L1666.2,1263.4 L1673.5,1265.0 L1680.8,1265.0 L1688.1,1266.3 L1695.4,1266.5 L1702.7,1266.4 L1710.0,1268.0 L1717.3,1269.6 L1724.6,1269.5 L1731.9,1269.6 L1739.2,1270.9 L1746.5,1272.2 L1753.8,1272.3 L1761.1,1272.5 L1768.4,1273.6 L1775.7,1274.1 L1783.0,1274.9 L1790.3,1275.5 L1797.6,1276.1 L1805.0,1276.8 L1812.3,1277.3 L1819.6,1278.5 L1826.9,1278.5 L1834.2,1278.4 L1841.5,1279.6 L1848.8,1280.7 L1856.1,1280.7 L1863.4,1281.0 L1870.7,1281.7 L1878.0,1282.6 L1885.3,1282.8 L1892.6,1283.7 L1899.9,1283.7 L1907.2,1284.9 L1914.5,1284.7 L1921.8,1285.0 L1929.1,1285.6 L1936.4,1286.0" fill="none" stroke="#000080" stroke-width="5.4" stroke-linejoin="round" stroke-linecap="butt"/>
<rect x="319.1" y="1150.3" width="21.4" height="21.4" fill="#ffffff" stroke="#000080" stroke-width="1.7" stroke-linejoin="miter"/>
<rect x="465.2" y="989.0" width="21.4" height="21.4" fill="#ffffff" stroke="#000080" stroke-width="1.7" stroke-linejoin="miter"/>
<rect x="611.2" y="847.7" width="21.4" height="21.4" fill="#ffffff" stroke="#000080" stroke-width="1.7" stroke-linejoin="miter"/>
<rect x="757.3" y="880.3" width="21.4" height="21.4" fill="#ffffff" stroke="#000080" stroke-width="1.7" stroke-linejoin="miter"/>
<rect x="903.3" y="998.1" width="21.4" height="21.4" fill="#ffffff" stroke="#000080" stroke-width="1.7" stroke-linejoin="miter"/>
<rect x="1049.4" y="1104.3" width="21.4" height="21.4" fill="#ffffff" stroke="#000080" stroke-width="1.7" stroke-linejoin="miter"/>
<rect x="1195.4" y="1170.3" width="21.4" height="21.4" fill="#ffffff" stroke="#000080" stroke-width="1.7" stroke-linejoin="miter"/>
<rect x="1341.5" y="1204.3" width="21.4" height="21.4" fill="#ffffff" stroke="#000080" stroke-width="1.7" stroke-linejoin="miter"/>
<rect x="1487.5" y="1231.3" width="21.4" height="21.4" fill="#ffffff" stroke="#000080" stroke-width="1.7" stroke-linejoin="miter"/>
<rect x="1633.6" y="1250.3" width="21.4" height="21.4" fill="#ffffff" stroke="#000080" stroke-width="1.7" stroke-linejoin="miter"/>
<rect x="1779.6" y="1264.8" width="21.4" height="21.4" fill="#ffffff" stroke="#000080" stroke-width="1.7" stroke-linejoin="miter"/>
<rect x="1925.7" y="1275.3" width="21.4" height="21.4" fill="#ffffff" stroke="#000080" stroke-width="1.7" stroke-linejoin="miter"/>
</g>
<g><path d="M329.8,1176.6 L337.1,1170.5 L344.4,1163.4 L351.7,1157.8 L359.0,1151.8 L366.3,1144.3 L373.6,1137.4 L380.9,1129.9 L388.2,1121.7 L395.5,1114.9 L402.8,1106.8 L410.1,1099.5 L417.4,1090.7 L424.7,1083.8 L432.0,1075.3 L439.3,1067.7 L446.6,1058.1 L453.9,1051.3 L461.2,1042.2 L468.6,1034.6 L475.9,1026.4 L483.2,1018.2 L490.5,1010.3 L497.8,1001.8 L505.1,995.4 L512.4,985.7 L519.7,978.5 L527.0,969.9 L534.3,962.9 L541.6,954.5 L548.9,946.1 L556.2,940.1 L563.5,933.1 L570.8,926.3 L578.1,918.9 L585.4,914.6 L592.7,910.5 L600.0,904.2 L607.3,900.9 L614.6,895.9 L621.9,893.5 L629.2,892.1 L636.5,889.5 L643.8,890.2 L651.1,891.2 L658.4,888.6 L665.7,886.7 L673.0,888.8 L680.3,889.9 L687.6,890.8 L694.9,890.6 L702.2,894.1 L709.5,895.9 L716.8,898.1 L724.1,899.9 L731.5,902.9 L738.8,906.5 L746.1,911.2 L753.4,916.1 L760.7,921.4 L768.0,926.3 L775.3,931.0 L782.6,934.7 L789.9,940.4 L797.2,947.0 L804.5,949.9 L811.8,954.4 L819.1,959.8 L826.4,964.6 L833.7,970.1 L841.0,976.9 L848.3,981.0 L855.6,988.4 L862.9,992.9 L870.2,1000.7 L877.5,1005.4 L884.8,1011.7 L892.1,1017.9 L899.4,1025.3 L906.7,1029.9 L914.0,1035.5 L921.3,1041.0 L928.6,1046.6 L935.9,1052.0 L943.2,1057.9 L950.5,1063.0 L957.8,1069.1 L965.1,1073.9 L972.4,1080.7 L979.7,1084.6 L987.0,1089.3 L994.3,1094.9 L1001.7,1100.4 L1009.0,1104.8 L1016.3,1110.8 L1023.6,1114.2 L1030.9,1117.4 L1038.2,1123.0 L1045.5,1127.2 L1052.8,1131.0 L1060.1,1134.8 L1067.4,1138.4 L1074.7,1142.5 L1082.0,1145.5 L1089.3,1148.3 L1096.6,1152.2 L1103.9,1156.5 L1111.2,1158.7 L1118.5,1161.5 L1125.8,1164.9 L1133.1,1169.0 L1140.4,1170.8 L1147.7,1173.9 L1155.0,1176.3 L1162.3,1179.3 L1169.6,1181.4 L1176.9,1182.9 L1184.2,1186.2 L1191.5,1188.9 L1198.8,1190.5 L1206.1,1192.5 L1213.4,1194.4 L1220.7,1195.9 L1228.0,1198.0 L1235.3,1198.8 L1242.6,1201.3 L1249.9,1202.8 L1257.2,1204.5 L1264.5,1206.6 L1271.9,1207.4 L1279.2,1208.9 L1286.5,1210.2 L1293.8,1211.0 L1301.1,1212.8 L1308.4,1213.9 L1315.7,1215.5 L1323.0,1216.5 L1330.3,1218.1 L1337.6,1218.6 L1344.9,1220.7 L1352.2,1222.0 L1359.5,1223.3 L1366.8,1224.4 L1374.1,1226.0 L1381.4,1226.4 L1388.7,1228.6 L1396.0,1229.8 L1403.3,1231.2 L1410.6,1232.7 L1417.9,1233.7 L1425.2,1234.3 L1432.5,1236.1 L1439.8,1237.1 L1447.1,1238.6 L1454.4,1238.9 L1461.7,1240.9 L1469.0,1242.1 L1476.3,1243.2 L1483.6,1244.9 L1490.9,1245.4 L1498.2,1246.5 L1505.5,1247.6 L1512.8,1248.2 L1520.1,1249.7 L1527.4,1251.6 L1534.8,1251.7 L1542.1,1251.8 L1549.4,1253.8 L1556.7,1255.1 L1564.0,1255.7 L1571.3,1255.8 L1578.6,1257.7 L1585.9,1258.2 L1593.2,1259.5 L1600.5,1260.0 L1607.8,1261.3 L1615.1,1262.8 L1622.4,1263.0 L1629.7,1264.3 L1637.0,1264.7 L1644.3,1265.5 L1651.6,1266.3 L1658.9,1267.8 L1666.2,1267.8 L1673.5,1268.0 L1680.8,1269.3 L1688.1,1269.2 L1695.4,1270.7 L1702.7,1271.2 L1710.0,1272.1 L1717.3,1273.2 L1724.6,1273.5 L1731.9,1273.9 L1739.2,1274.8 L1746.5,1275.4 L1753.8,1276.0 L1761.1,1277.5 L1768.4,1277.2 L1775.7,1278.6 L1783.0,1278.4 L1790.3,1279.0 L1797.6,1279.6 L1805.0,1279.7 L1812.3,1280.7 L1819.6,1280.9 L1826.9,1281.8 L1834.2,1281.7 L1841.5,1282.9 L1848.8,1283.6 L1856.1,1283.9 L1863.4,1284.9 L1870.7,1284.9 L1878.0,1285.6 L1885.3,1285.9 L1892.6,1286.1 L1899.9,1286.8 L1907.2,1287.0 L1914.5,1287.7 L1921.8,1288.1 L1929.1,1288.6 L1936.4,1289.0" fill="none" stroke="#990090" stroke-width="6.0" stroke-linejoin="round" stroke-linecap="butt"/>
<circle cx="329.8" cy="1176.6" r="10.9" fill="#ffffff" stroke="#990090" stroke-width="1.7" stroke-linejoin="miter"/>
<circle cx="475.9" cy="1026.4" r="10.9" fill="#ffffff" stroke="#990090" stroke-width="1.7" stroke-linejoin="miter"/>
<circle cx="621.9" cy="893.5" r="10.9" fill="#ffffff" stroke="#990090" stroke-width="1.7" stroke-linejoin="miter"/>
<circle cx="768.0" cy="926.3" r="10.9" fill="#ffffff" stroke="#990090" stroke-width="1.7" stroke-linejoin="miter"/>
<circle cx="914.0" cy="1035.5" r="10.9" fill="#ffffff" stroke="#990090" stroke-width="1.7" stroke-linejoin="miter"/>
<circle cx="1060.1" cy="1134.8" r="10.9" fill="#ffffff" stroke="#990090" stroke-width="1.7" stroke-linejoin="miter"/>
<circle cx="1206.1" cy="1192.5" r="10.9" fill="#ffffff" stroke="#990090" stroke-width="1.7" stroke-linejoin="miter"/>
<circle cx="1352.2" cy="1222.0" r="10.9" fill="#ffffff" stroke="#990090" stroke-width="1.7" stroke-linejoin="miter"/>
<circle cx="1498.2" cy="1246.5" r="10.9" fill="#ffffff" stroke="#990090" stroke-width="1.7" stroke-linejoin="miter"/>
<circle cx="1644.3" cy="1265.5" r="10.9" fill="#ffffff" stroke="#990090" stroke-width="1.7" stroke-linejoin="miter"/>
<circle cx="1790.3" cy="1279.0" r="10.9" fill="#ffffff" stroke="#990090" stroke-width="1.7" stroke-linejoin="miter"/>
<circle cx="1936.4" cy="1289.0" r="10.9" fill="#ffffff" stroke="#990090" stroke-width="1.7" stroke-linejoin="miter"/>
</g>
<g><path d="M329.8,1205.5 L337.1,1200.4 L344.4,1194.6 L351.7,1189.8 L359.0,1183.1 L366.3,1178.5 L373.6,1172.8 L380.9,1166.5 L388.2,1159.3 L395.5,1153.9 L402.8,1148.0 L410.1,1141.1 L417.4,1135.0 L424.7,1127.9 L432.0,1122.3 L439.3,1114.5 L446.6,1106.6 L453.9,1100.6 L461.2,1093.8 L468.6,1086.7 L475.9,1080.0 L483.2,1073.6 L490.5,1066.0 L497.8,1061.3 L505.1,1054.8 L512.4,1049.4 L519.7,1043.2 L527.0,1037.4 L534.3,1032.9 L541.6,1025.8 L548.9,1020.5 L556.2,1015.0 L563.5,1008.1 L570.8,1004.6 L578.1,1000.6 L585.4,995.8 L592.7,993.8 L600.0,988.6 L607.3,984.4 L614.6,982.5 L621.9,979.9 L629.2,977.2 L636.5,974.6 L643.8,973.2 L651.1,973.3 L658.4,973.7 L665.7,974.2 L673.0,974.9 L680.3,975.5 L687.6,976.1 L694.9,976.7 L702.2,977.4 L709.5,978.3 L716.8,979.5 L724.1,982.0 L731.5,986.0 L738.8,990.0 L746.1,993.6 L753.4,997.2 L760.7,1000.8 L768.0,1004.5 L775.3,1008.2 L782.6,1012.4 L789.9,1015.7 L797.2,1020.3 L804.5,1023.3 L811.8,1026.5 L819.1,1031.1 L826.4,1033.8 L833.7,1039.2 L841.0,1044.0 L848.3,1047.9 L855.6,1051.4 L862.9,1057.3 L870.2,1062.6 L877.5,1067.2 L884.8,1071.2 L892.1,1077.1 L899.4,1082.3 L906.7,1086.6 L914.0,1091.1 L921.3,1095.5 L928.6,1100.3 L935.9,1104.3 L943.2,1109.3 L950.5,1113.0 L957.8,1117.4 L965.1,1121.6 L972.4,1124.6 L979.7,1130.1 L987.0,1133.0 L994.3,1138.3 L1001.7,1141.7 L1009.0,1146.2 L1016.3,1151.2 L1023.6,1153.8 L1030.9,1156.9 L1038.2,1160.9 L1045.5,1165.4 L1052.8,1167.6 L1060.1,1170.7 L1067.4,1173.7 L1074.7,1177.7 L1082.0,1179.7 L1089.3,1182.5 L1096.6,1185.5 L1103.9,1188.2 L1111.2,1191.1 L1118.5,1194.8 L1125.8,1196.5 L1133.1,1199.4 L1140.4,1201.6 L1147.7,1204.3 L1155.0,1206.4 L1162.3,1208.7 L1169.6,1210.8 L1176.9,1212.2 L1184.2,1214.8 L1191.5,1216.7 L1198.8,1218.4 L1206.1,1220.0 L1213.4,1221.5 L1220.7,1222.1 L1228.0,1224.3 L1235.3,1226.3 L1242.6,1227.0 L1249.9,1228.8 L1257.2,1229.4 L1264.5,1231.0 L1271.9,1231.6 L1279.2,1231.7 L1286.5,1233.7 L1293.8,1234.2 L1301.1,1235.8 L1308.4,1236.0 L1315.7,1237.7 L1323.0,1239.3 L1330.3,1239.6 L1337.6,1240.4 L1344.9,1241.5 L1352.2,1242.5 L1359.5,1243.5 L1366.8,1244.1 L1374.1,1245.3 L1381.4,1246.7 L1388.7,1247.2 L1396.0,1248.4 L1403.3,1249.0 L1410.6,1250.2 L1417.9,1250.7 L1425.2,1251.7 L1432.5,1252.4 L1439.8,1253.7 L1447.1,1254.1 L1454.4,1255.7 L1461.7,1255.7 L1469.0,1257.4 L1476.3,1257.2 L1483.6,1258.3 L1490.9,1258.8 L1498.2,1259.5 L1505.5,1260.2 L1512.8,1261.2 L1520.1,1261.6 L1527.4,1261.7 L1534.8,1263.0 L1542.1,1263.1 L1549.4,1264.3 L1556.7,1264.3 L1564.0,1265.6 L1571.3,1266.2 L1578.6,1266.9 L1585.9,1268.1 L1593.2,1268.2 L1600.5,1268.5 L1607.8,1269.4 L1615.1,1269.7 L1622.4,1270.6 L1629.7,1271.5 L1637.0,1271.9 L1644.3,1272.5 L1651.6,1273.1 L1658.9,1273.0 L1666.2,1274.4 L1673.5,1275.9 L1680.8,1275.7 L1688.1,1276.1 L1695.4,1277.0 L1702.7,1276.8 L1710.0,1278.2 L1717.3,1279.5 L1724.6,1279.5 L1731.9,1280.4 L1739.2,1280.7 L1746.5,1280.6 L1753.8,1281.9 L1761.1,1282.7 L1768.4,1283.0 L1775.7,1284.0 L1783.0,1284.0 L1790.3,1284.5 L1797.6,1285.0 L1805.0,1285.4 L1812.3,1285.9 L1819.6,1285.8 L1826.9,1286.8 L1834.2,1287.3 L1841.5,1287.7 L1848.8,1288.5 L1856.1,1288.5 L1863.4,1289.5 L1870.7,1289.4 L1878.0,1289.8 L1885.3,1290.1 L1892.6,1291.0 L1899.9,1290.9 L1907.2,1290.4 L1914.5,1291.5 L1921.8,1292.7 L1929.1,1292.2 L1936.4,1292.5" fill="none" stroke="#a00000" stroke-width="5.6" stroke-linejoin="round" stroke-linecap="butt"/>
<polygon points="329.8,1187.8 315.6,1214.3 344.1,1214.3" fill="#ffffff" stroke="#a00000" stroke-width="1.7" stroke-linejoin="miter"/>
<polygon points="475.9,1062.3 461.6,1088.8 490.1,1088.8" fill="#ffffff" stroke="#a00000" stroke-width="1.7" stroke-linejoin="miter"/>
<polygon points="621.9,962.2 607.7,988.7 636.2,988.7" fill="#ffffff" stroke="#a00000" stroke-width="1.7" stroke-linejoin="miter"/>
<polygon points="768.0,986.8 753.7,1013.3 782.2,1013.3" fill="#ffffff" stroke="#a00000" stroke-width="1.7" stroke-linejoin="miter"/>
<polygon points="914.0,1073.4 899.8,1099.9 928.3,1099.9" fill="#ffffff" stroke="#a00000" stroke-width="1.7" stroke-linejoin="miter"/>
<polygon points="1060.1,1153.0 1045.8,1179.5 1074.3,1179.5" fill="#ffffff" stroke="#a00000" stroke-width="1.7" stroke-linejoin="miter"/>
<polygon points="1206.1,1202.3 1191.9,1228.8 1220.4,1228.8" fill="#ffffff" stroke="#a00000" stroke-width="1.7" stroke-linejoin="miter"/>
<polygon points="1352.2,1224.8 1337.9,1251.3 1366.4,1251.3" fill="#ffffff" stroke="#a00000" stroke-width="1.7" stroke-linejoin="miter"/>
<polygon points="1498.2,1241.8 1484.0,1268.3 1512.5,1268.3" fill="#ffffff" stroke="#a00000" stroke-width="1.7" stroke-linejoin="miter"/>
<polygon points="1644.3,1254.8 1630.0,1281.3 1658.5,1281.3" fill="#ffffff" stroke="#a00000" stroke-width="1.7" stroke-linejoin="miter"/>
<polygon points="1790.3,1266.8 1776.1,1293.3 1804.6,1293.3" fill="#ffffff" stroke="#a00000" stroke-width="1.7" stroke-linejoin="miter"/>
<polygon points="1936.4,1274.8 1922.2,1301.3 1950.7,1301.3" fill="#ffffff" stroke="#a00000" stroke-width="1.7" stroke-linejoin="miter"/>
</g>
<g><path d="M329.8,1220.2 L337.1,1216.1 L344.4,1212.2 L351.7,1207.6 L359.0,1203.1 L366.3,1198.6 L373.6,1194.3 L380.9,1189.0 L388.2,1183.3 L395.5,1178.9 L402.8,1174.4 L410.1,1168.6 L417.4,1163.9 L424.7,1158.1 L432.0,1152.4 L439.3,1147.3 L446.6,1143.0 L453.9,1136.2 L461.2,1129.4 L468.6,1125.0 L475.9,1119.7 L483.2,1114.7 L490.5,1109.7 L497.8,1105.2 L505.1,1099.4 L512.4,1096.0 L519.7,1090.8 L527.0,1086.8 L534.3,1083.7 L541.6,1077.8 L548.9,1074.8 L556.2,1069.4 L563.5,1065.2 L570.8,1061.4 L578.1,1059.1 L585.4,1054.6 L592.7,1051.0 L600.0,1048.9 L607.3,1046.6 L614.6,1044.2 L621.9,1042.3 L629.2,1040.7 L636.5,1039.1 L643.8,1038.1 L651.1,1035.7 L658.4,1036.7 L665.7,1037.6 L673.0,1036.0 L680.3,1035.5 L687.6,1036.5 L694.9,1038.2 L702.2,1037.9 L709.5,1037.4 L716.8,1040.1 L724.1,1041.6 L731.5,1043.1 L738.8,1046.9 L746.1,1051.2 L753.4,1057.4 L760.7,1061.3 L768.0,1065.6 L775.3,1069.1 L782.6,1071.9 L789.9,1075.6 L797.2,1080.0 L804.5,1081.7 L811.8,1085.3 L819.1,1087.6 L826.4,1091.8 L833.7,1093.9 L841.0,1098.3 L848.3,1100.8 L855.6,1105.7 L862.9,1108.5 L870.2,1113.1 L877.5,1116.6 L884.8,1120.7 L892.1,1124.6 L899.4,1129.3 L906.7,1132.3 L914.0,1135.9 L921.3,1139.4 L928.6,1142.1 L935.9,1146.2 L943.2,1150.3 L950.5,1153.0 L957.8,1157.0 L965.1,1159.6 L972.4,1162.6 L979.7,1166.1 L987.0,1169.0 L994.3,1172.4 L1001.7,1176.2 L1009.0,1178.4 L1016.3,1180.5 L1023.6,1184.2 L1030.9,1187.3 L1038.2,1189.7 L1045.5,1193.3 L1052.8,1194.9 L1060.1,1197.3 L1067.4,1199.7 L1074.7,1201.6 L1082.0,1204.4 L1089.3,1207.8 L1096.6,1209.0 L1103.9,1210.3 L1111.2,1213.4 L1118.5,1216.1 L1125.8,1217.7 L1133.1,1220.7 L1140.4,1221.7 L1147.7,1224.0 L1155.0,1225.5 L1162.3,1226.5 L1169.6,1229.1 L1176.9,1231.7 L1184.2,1232.3 L1191.5,1233.8 L1198.8,1235.2 L1206.1,1236.5 L1213.4,1237.7 L1220.7,1238.2 L1228.0,1240.1 L1235.3,1241.2 L1242.6,1242.2 L1249.9,1243.3 L1257.2,1244.2 L1264.5,1244.2 L1271.9,1246.1 L1279.2,1246.6 L1286.5,1247.9 L1293.8,1247.9 L1301.1,1249.5 L1308.4,1250.1 L1315.7,1251.1 L1323.0,1252.1 L1330.3,1252.7 L1337.6,1254.0 L1344.9,1254.2 L1352.2,1255.0 L1359.5,1255.8 L1366.8,1256.7 L1374.1,1257.2 L1381.4,1257.7 L1388.7,1258.6 L1396.0,1260.0 L1403.3,1259.9 L1410.6,1261.4 L1417.9,1261.2 L1425.2,1261.5 L1432.5,1262.5 L1439.8,1263.7 L1447.1,1263.7 L1454.4,1263.7 L1461.7,1265.0 L1469.0,1266.1 L1476.3,1266.2 L1483.6,1267.2 L1490.9,1267.4 L1498.2,1268.0 L1505.5,1268.6 L1512.8,1269.1 L1520.1,1269.8 L1527.4,1271.0 L1534.8,1271.1 L1542.1,1272.6 L1549.4,1272.3 L1556.7,1272.5 L1564.0,1273.5 L1571.3,1273.2 L1578.6,1274.6 L1585.9,1275.6 L1593.2,1275.8 L1600.5,1275.8 L1607.8,1276.9 L1615.1,1278.2 L1622.4,1278.1 L1629.7,1278.7 L1637.0,1279.2 L1644.3,1279.7 L1651.6,1280.2 L1658.9,1280.1 L1666.2,1281.3 L1673.5,1282.4 L1680.8,1282.4 L1688.1,1283.5 L1695.4,1283.4 L1702.7,1283.4 L1710.0,1284.4 L1717.3,1285.7 L1724.6,1285.5 L1731.9,1285.9 L1739.2,1286.4 L1746.5,1286.3 L1753.8,1287.4 L1761.1,1287.4 L1768.4,1288.3 L1775.7,1288.1 L1783.0,1289.1 L1790.3,1289.5 L1797.6,1289.9 L1805.0,1290.4 L1812.3,1290.6 L1819.6,1291.6 L1826.9,1291.4 L1834.2,1292.2 L1841.5,1292.1 L1848.8,1292.6 L1856.1,1292.8 L1863.4,1293.5 L1870.7,1293.4 L1878.0,1293.8 L1885.3,1294.1 L1892.6,1294.3 L1899.9,1294.7 L1907.2,1294.6 L1914.5,1295.2 L1921.8,1295.8 L1929.1,1295.8 L1936.4,1296.0" fill="none" stroke="#008a00" stroke-width="7.0" stroke-linejoin="round" stroke-linecap="butt"/>
<polygon points="329.8,1237.9 315.6,1211.4 344.1,1211.4" fill="#ffffff" stroke="#008a00" stroke-width="1.7" stroke-linejoin="miter"/>
<polygon points="475.9,1137.4 461.6,1110.9 490.1,1110.9" fill="#ffffff" stroke="#008a00" stroke-width="1.7" stroke-linejoin="miter"/>
<polygon points="621.9,1060.0 607.7,1033.5 636.2,1033.5" fill="#ffffff" stroke="#008a00" stroke-width="1.7" stroke-linejoin="miter"/>
<polygon points="768.0,1083.3 753.7,1056.8 782.2,1056.8" fill="#ffffff" stroke="#008a00" stroke-width="1.7" stroke-linejoin="miter"/>
<polygon points="914.0,1153.6 899.8,1127.1 928.3,1127.1" fill="#ffffff" stroke="#008a00" stroke-width="1.7" stroke-linejoin="miter"/>
<polygon points="1060.1,1215.0 1045.8,1188.5 1074.3,1188.5" fill="#ffffff" stroke="#008a00" stroke-width="1.7" stroke-linejoin="miter"/>
<polygon points="1206.1,1254.2 1191.9,1227.7 1220.4,1227.7" fill="#ffffff" stroke="#008a00" stroke-width="1.7" stroke-linejoin="miter"/>
<polygon points="1352.2,1272.7 1337.9,1246.2 1366.4,1246.2" fill="#ffffff" stroke="#008a00" stroke-width="1.7" stroke-linejoin="miter"/>
<polygon points="1498.2,1285.7 1484.0,1259.2 1512.5,1259.2" fill="#ffffff" stroke="#008a00" stroke-width="1.7" stroke-linejoin="miter"/>
<polygon points="1644.3,1297.4 1630.0,1270.9 1658.5,1270.9" fill="#ffffff" stroke="#008a00" stroke-width="1.7" stroke-linejoin="miter"/>
<polygon points="1790.3,1307.2 1776.1,1280.7 1804.6,1280.7" fill="#ffffff" stroke="#008a00" stroke-width="1.7" stroke-linejoin="miter"/>
<polygon points="1936.4,1313.7 1922.2,1287.2 1950.7,1287.2" fill="#ffffff" stroke="#008a00" stroke-width="1.7" stroke-linejoin="miter"/>
</g>
<g><path d="M329.8,1241.0 L337.1,1237.9 L344.4,1233.8 L351.7,1231.3 L359.0,1228.2 L366.3,1224.3 L373.6,1220.4 L380.9,1216.9 L388.2,1213.2 L395.5,1209.1 L402.8,1205.5 L410.1,1201.1 L417.4,1197.5 L424.7,1193.0 L432.0,1189.9 L439.3,1184.7 L446.6,1180.7 L453.9,1176.0 L461.2,1171.6 L468.6,1167.3 L475.9,1163.3 L483.2,1159.5 L490.5,1154.9 L497.8,1152.5 L505.1,1148.7 L512.4,1145.6 L519.7,1141.6 L527.0,1138.7 L534.3,1134.3 L541.6,1132.0 L548.9,1127.5 L556.2,1125.8 L563.5,1122.5 L570.8,1119.8 L578.1,1117.0 L585.4,1114.7 L592.7,1111.1 L600.0,1110.2 L607.3,1108.4 L614.6,1106.6 L621.9,1105.5 L629.2,1104.7 L636.5,1104.1 L643.8,1103.6 L651.1,1103.2 L658.4,1102.7 L665.7,1102.5 L673.0,1102.6 L680.3,1103.0 L687.6,1103.5 L694.9,1104.5 L702.2,1106.2 L709.5,1108.0 L716.8,1109.8 L724.1,1111.7 L731.5,1113.7 L738.8,1115.6 L746.1,1117.5 L753.4,1119.4 L760.7,1121.4 L768.0,1123.5 L775.3,1125.7 L782.6,1126.7 L789.9,1130.1 L797.2,1132.2 L804.5,1134.8 L811.8,1136.7 L819.1,1139.7 L826.4,1142.9 L833.7,1144.7 L841.0,1147.6 L848.3,1150.0 L855.6,1152.7 L862.9,1155.8 L870.2,1158.4 L877.5,1161.8 L884.8,1163.7 L892.1,1167.8 L899.4,1169.8 L906.7,1173.7 L914.0,1176.5 L921.3,1179.3 L928.6,1182.9 L935.9,1184.9 L943.2,1187.7 L950.5,1190.5 L957.8,1192.8 L965.1,1196.2 L972.4,1199.6 L979.7,1201.7 L987.0,1204.6 L994.3,1207.1 L1001.7,1209.5 L1009.0,1212.3 L1016.3,1215.0 L1023.6,1217.1 L1030.9,1218.7 L1038.2,1221.5 L1045.5,1224.0 L1052.8,1225.4 L1060.1,1227.2 L1067.4,1228.9 L1074.7,1229.5 L1082.0,1232.1 L1089.3,1233.8 L1096.6,1235.1 L1103.9,1236.0 L1111.2,1238.0 L1118.5,1238.9 L1125.8,1240.7 L1133.1,1241.8 L1140.4,1243.2 L1147.7,1244.9 L1155.0,1245.6 L1162.3,1247.3 L1169.6,1247.8 L1176.9,1249.6 L1184.2,1249.8 L1191.5,1250.2 L1198.8,1251.6 L1206.1,1252.5 L1213.4,1253.3 L1220.7,1253.2 L1228.0,1254.8 L1235.3,1256.1 L1242.6,1256.3 L1249.9,1256.3 L1257.2,1257.6 L1264.5,1258.7 L1271.9,1258.8 L1279.2,1260.2 L1286.5,1260.0 L1293.8,1259.6 L1301.1,1261.1 L1308.4,1262.4 L1315.7,1262.2 L1323.0,1263.5 L1330.3,1263.3 L1337.6,1264.8 L1344.9,1264.4 L1352.2,1265.0 L1359.5,1265.6 L1366.8,1266.8 L1374.1,1266.8 L1381.4,1266.9 L1388.7,1267.9 L1396.0,1269.2 L1403.3,1269.1 L1410.6,1269.6 L1417.9,1270.2 L1425.2,1270.7 L1432.5,1271.3 L1439.8,1272.6 L1447.1,1272.4 L1454.4,1273.4 L1461.7,1273.5 L1469.0,1274.3 L1476.3,1274.5 L1483.6,1274.8 L1490.9,1275.5 L1498.2,1276.0 L1505.5,1276.5 L1512.8,1277.5 L1520.1,1277.4 L1527.4,1277.7 L1534.8,1278.3 L1542.1,1278.0 L1549.4,1279.2 L1556.7,1279.8 L1564.0,1280.0 L1571.3,1279.8 L1578.6,1280.8 L1585.9,1281.9 L1593.2,1281.6 L1600.5,1281.6 L1607.8,1282.5 L1615.1,1282.1 L1622.4,1283.3 L1629.7,1283.8 L1637.0,1284.1 L1644.3,1284.5 L1651.6,1284.9 L1658.9,1285.9 L1666.2,1285.7 L1673.5,1285.4 L1680.8,1286.6 L1688.1,1287.3 L1695.4,1287.4 L1702.7,1287.8 L1710.0,1288.2 L1717.3,1287.9 L1724.6,1289.0 L1731.9,1289.8 L1739.2,1289.8 L1746.5,1290.9 L1753.8,1290.6 L1761.1,1290.2 L1768.4,1291.4 L1775.7,1291.3 L1783.0,1292.1 L1790.3,1292.5 L1797.6,1292.9 L1805.0,1294.0 L1812.3,1293.6 L1819.6,1294.4 L1826.9,1294.3 L1834.2,1295.0 L1841.5,1294.9 L1848.8,1295.2 L1856.1,1295.6 L1863.4,1295.7 L1870.7,1296.3 L1878.0,1296.4 L1885.3,1296.9 L1892.6,1297.2 L1899.9,1297.5 L1907.2,1297.4 L1914.5,1298.1 L1921.8,1299.0 L1929.1,1298.7 L1936.4,1299.0" fill="none" stroke="#0000b0" stroke-width="6.7" stroke-linejoin="round" stroke-linecap="butt"/>
<polygon points="315.1,1241.0 338.6,1226.5 338.6,1255.5" fill="#ffffff" stroke="#0000b0" stroke-width="1.7" stroke-linejoin="miter"/>
<polygon points="461.2,1163.3 484.7,1148.8 484.7,1177.8" fill="#ffffff" stroke="#0000b0" stroke-width="1.7" stroke-linejoin="miter"/>
<polygon points="607.2,1105.5 630.7,1091.0 630.7,1120.0" fill="#ffffff" stroke="#0000b0" stroke-width="1.7" stroke-linejoin="miter"/>
<polygon points="753.3,1123.5 776.8,1109.0 776.8,1138.0" fill="#ffffff" stroke="#0000b0" stroke-width="1.7" stroke-linejoin="miter"/>
<polygon points="899.4,1176.5 922.9,1162.0 922.9,1191.0" fill="#ffffff" stroke="#0000b0" stroke-width="1.7" stroke-linejoin="miter"/>
<polygon points="1045.4,1227.2 1068.9,1212.7 1068.9,1241.7" fill="#ffffff" stroke="#0000b0" stroke-width="1.7" stroke-linejoin="miter"/>
<polygon points="1191.5,1252.5 1215.0,1238.0 1215.0,1267.0" fill="#ffffff" stroke="#0000b0" stroke-width="1.7" stroke-linejoin="miter"/>
<polygon points="1337.5,1265.0 1361.0,1250.5 1361.0,1279.5" fill="#ffffff" stroke="#0000b0" stroke-width="1.7" stroke-linejoin="miter"/>
<polygon points="1483.6,1276.0 1507.1,1261.5 1507.1,1290.5" fill="#ffffff" stroke="#0000b0" stroke-width="1.7" stroke-linejoin="miter"/>
<polygon points="1629.6,1284.5 1653.1,1270.0 1653.1,1299.0" fill="#ffffff" stroke="#0000b0" stroke-width="1.7" stroke-linejoin="miter"/>
<polygon points="1775.7,1292.5 1799.2,1278.0 1799.2,1307.0" fill="#ffffff" stroke="#0000b0" stroke-width="1.7" stroke-linejoin="miter"/>
<polygon points="1921.7,1299.0 1945.2,1284.5 1945.2,1313.5" fill="#ffffff" stroke="#0000b0" stroke-width="1.7" stroke-linejoin="miter"/>
</g>
<g><path d="M329.8,1246.2 L337.1,1243.4 L344.4,1240.8 L351.7,1237.6 L359.0,1233.9 L366.3,1231.5 L373.6,1228.1 L380.9,1224.9 L388.2,1222.0 L395.5,1218.0 L402.8,1214.1 L410.1,1211.0 L417.4,1206.6 L424.7,1203.8 L432.0,1199.1 L439.3,1196.5 L446.6,1192.5 L453.9,1188.9 L461.2,1184.4 L468.6,1181.3 L475.9,1177.6 L483.2,1174.1 L490.5,1170.2 L497.8,1167.2 L505.1,1165.1 L512.4,1160.5 L519.7,1156.5 L527.0,1153.9 L534.3,1149.5 L541.6,1147.4 L548.9,1144.8 L556.2,1141.4 L563.5,1138.7 L570.8,1135.6 L578.1,1132.4 L585.4,1130.6 L592.7,1128.5 L600.0,1126.7 L607.3,1123.9 L614.6,1123.3 L621.9,1121.8 L629.2,1120.3 L636.5,1119.0 L643.8,1118.0 L651.1,1117.3 L658.4,1117.3 L665.7,1117.5 L673.0,1118.0 L680.3,1118.5 L687.6,1119.1 L694.9,1119.9 L702.2,1121.0 L709.5,1122.4 L716.8,1125.1 L724.1,1128.5 L731.5,1130.8 L738.8,1132.8 L746.1,1134.5 L753.4,1136.2 L760.7,1137.9 L768.0,1139.8 L775.3,1141.8 L782.6,1142.7 L789.9,1145.8 L797.2,1148.9 L804.5,1149.9 L811.8,1152.8 L819.1,1154.2 L826.4,1157.3 L833.7,1158.7 L841.0,1161.7 L848.3,1163.3 L855.6,1167.0 L862.9,1168.4 L870.2,1171.3 L877.5,1173.7 L884.8,1177.2 L892.1,1179.1 L899.4,1181.6 L906.7,1184.3 L914.0,1186.8 L921.3,1189.2 L928.6,1190.6 L935.9,1194.2 L943.2,1196.6 L950.5,1199.1 L957.8,1200.7 L965.1,1204.1 L972.4,1207.2 L979.7,1208.9 L987.0,1211.8 L994.3,1213.7 L1001.7,1216.1 L1009.0,1218.2 L1016.3,1219.9 L1023.6,1222.5 L1030.9,1225.6 L1038.2,1226.6 L1045.5,1227.7 L1052.8,1230.3 L1060.1,1232.0 L1067.4,1233.6 L1074.7,1235.5 L1082.0,1236.9 L1089.3,1238.4 L1096.6,1239.9 L1103.9,1241.2 L1111.2,1242.9 L1118.5,1244.8 L1125.8,1245.7 L1133.1,1246.7 L1140.4,1248.4 L1147.7,1249.4 L1155.0,1250.9 L1162.3,1251.7 L1169.6,1253.2 L1176.9,1255.2 L1184.2,1255.4 L1191.5,1257.2 L1198.8,1257.4 L1206.1,1258.3 L1213.4,1259.2 L1220.7,1260.6 L1228.0,1260.9 L1235.3,1260.8 L1242.6,1262.4 L1249.9,1264.0 L1257.2,1263.9 L1264.5,1265.4 L1271.9,1265.3 L1279.2,1266.5 L1286.5,1266.6 L1293.8,1267.2 L1301.1,1267.9 L1308.4,1269.3 L1315.7,1269.1 L1323.0,1269.5 L1330.3,1270.3 L1337.6,1270.5 L1344.9,1271.4 L1352.2,1272.0 L1359.5,1272.6 L1366.8,1272.3 L1374.1,1273.7 L1381.4,1273.4 L1388.7,1274.8 L1396.0,1274.5 L1403.3,1275.8 L1410.6,1275.7 L1417.9,1276.8 L1425.2,1276.5 L1432.5,1277.8 L1439.8,1277.8 L1447.1,1278.8 L1454.4,1279.3 L1461.7,1279.7 L1469.0,1279.6 L1476.3,1280.7 L1483.6,1280.5 L1490.9,1281.6 L1498.2,1282.0 L1505.5,1282.4 L1512.8,1282.3 L1520.1,1283.3 L1527.4,1284.1 L1534.8,1284.2 L1542.1,1284.6 L1549.4,1285.0 L1556.7,1285.9 L1564.0,1285.9 L1571.3,1286.6 L1578.6,1286.7 L1585.9,1287.0 L1593.2,1287.5 L1600.5,1288.0 L1607.8,1288.2 L1615.1,1288.6 L1622.4,1289.0 L1629.7,1290.1 L1637.0,1289.7 L1644.3,1290.0 L1651.6,1290.3 L1658.9,1290.0 L1666.2,1290.9 L1673.5,1291.9 L1680.8,1291.5 L1688.1,1291.8 L1695.4,1292.0 L1702.7,1292.5 L1710.0,1292.6 L1717.3,1293.1 L1724.6,1293.1 L1731.9,1292.8 L1739.2,1293.6 L1746.5,1294.5 L1753.8,1294.1 L1761.1,1294.3 L1768.4,1294.6 L1775.7,1294.2 L1783.0,1295.2 L1790.3,1295.5 L1797.6,1295.8 L1805.0,1295.9 L1812.3,1296.4 L1819.6,1296.5 L1826.9,1297.0 L1834.2,1297.3 L1841.5,1297.7 L1848.8,1297.4 L1856.1,1298.3 L1863.4,1298.1 L1870.7,1298.9 L1878.0,1300.0 L1885.3,1299.6 L1892.6,1300.2 L1899.9,1300.3 L1907.2,1300.0 L1914.5,1301.0 L1921.8,1302.0 L1929.1,1301.7 L1936.4,1302.0" fill="none" stroke="#000000" stroke-width="6.2" stroke-linejoin="round" stroke-linecap="butt"/>
<polygon points="344.5,1246.2 321.0,1231.7 321.0,1260.7" fill="#ffffff" stroke="#000000" stroke-width="1.7" stroke-linejoin="miter"/>
<polygon points="490.5,1177.6 467.0,1163.1 467.0,1192.1" fill="#ffffff" stroke="#000000" stroke-width="1.7" stroke-linejoin="miter"/>
<polygon points="636.6,1121.8 613.1,1107.3 613.1,1136.3" fill="#ffffff" stroke="#000000" stroke-width="1.7" stroke-linejoin="miter"/>
<polygon points="782.6,1139.8 759.1,1125.3 759.1,1154.3" fill="#ffffff" stroke="#000000" stroke-width="1.7" stroke-linejoin="miter"/>
<polygon points="928.7,1186.8 905.2,1172.3 905.2,1201.3" fill="#ffffff" stroke="#000000" stroke-width="1.7" stroke-linejoin="miter"/>
<polygon points="1074.7,1232.0 1051.2,1217.5 1051.2,1246.5" fill="#ffffff" stroke="#000000" stroke-width="1.7" stroke-linejoin="miter"/>
<polygon points="1220.8,1258.3 1197.3,1243.8 1197.3,1272.8" fill="#ffffff" stroke="#000000" stroke-width="1.7" stroke-linejoin="miter"/>
<polygon points="1366.8,1272.0 1343.3,1257.5 1343.3,1286.5" fill="#ffffff" stroke="#000000" stroke-width="1.7" stroke-linejoin="miter"/>
<polygon points="1512.9,1282.0 1489.4,1267.5 1489.4,1296.5" fill="#ffffff" stroke="#000000" stroke-width="1.7" stroke-linejoin="miter"/>
<polygon points="1659.0,1290.0 1635.5,1275.5 1635.5,1304.5" fill="#ffffff" stroke="#000000" stroke-width="1.7" stroke-linejoin="miter"/>
<polygon points="1805.0,1295.5 1781.5,1281.0 1781.5,1310.0" fill="#ffffff" stroke="#000000" stroke-width="1.7" stroke-linejoin="miter"/>
<polygon points="1951.1,1302.0 1927.6,1287.5 1927.6,1316.5" fill="#ffffff" stroke="#000000" stroke-width="1.7" stroke-linejoin="miter"/>
</g>
</g>
<g stroke="#ff0000" stroke-width="6" fill="none" stroke-linecap="round" stroke-linejoin="miter">
<line x1="878.5" y1="1272" x2="1165.5" y2="821.5"/>
<polyline points="1132.8,837.2 1166,820.6 1165,857.6"/>
</g>
<text x="1107" y="793.3" font-size="79.5" style="fill:#ff0000">55</text>
<text class="degs" transform="translate(1190.5,800.6) scale(0.85,1)" font-size="82" style="fill:#ff0000">℃</text>
<text x="1660.5" y="158.2" font-size="61.5" textLength="184" lengthAdjust="spacingAndGlyphs">pH = 2</text>
<line x1="1612.5" y1="218.0" x2="1749" y2="218.0" stroke="#ff0000" stroke-width="5.8" stroke-linecap="round"/>
<rect x="1668.8" y="206.5" width="23.0" height="23.0" fill="#ff0000"/>
<text x="1765.5" y="240.2" font-size="60.5">55<tspan class="deg" x="1837.8" font-size="60">℃</tspan></text>
<line x1="1612.5" y1="298.7" x2="1749" y2="298.7" stroke="#ff8000" stroke-width="5.8" stroke-linecap="round"/>
<circle cx="1680.3" cy="298.7" r="11.8" fill="#ff8000"/>
<text x="1765.5" y="320.9" font-size="60.5">53<tspan class="deg" x="1837.8" font-size="60">℃</tspan></text>
<line x1="1612.5" y1="379.5" x2="1749" y2="379.5" stroke="#ff00ff" stroke-width="5.8" stroke-linecap="round"/>
<polygon points="1680.3,360.5 1665.0,389.0 1695.5,389.0" fill="#ff00ff"/>
<text x="1765.5" y="401.7" font-size="60.5">51<tspan class="deg" x="1837.8" font-size="60">℃</tspan></text>
<line x1="1612.5" y1="460.2" x2="1749" y2="460.2" stroke="#00ff00" stroke-width="7.0" stroke-linecap="round"/>
<polygon points="1680.3,479.2 1665.0,450.7 1695.5,450.7" fill="#00ff00"/>
<text x="1765.5" y="482.4" font-size="60.5">47<tspan class="deg" x="1837.8" font-size="60">℃</tspan></text>
<line x1="1612.5" y1="540.9" x2="1749" y2="540.9" stroke="#0000ff" stroke-width="6.5" stroke-linecap="round"/>
<polygon points="1664.3,540.9 1689.8,525.4 1689.8,556.4" fill="#0000ff"/>
<text x="1765.5" y="563.1" font-size="60.5">45<tspan class="deg" x="1837.8" font-size="60">℃</tspan></text>
<line x1="1612.5" y1="621.7" x2="1749" y2="621.7" stroke="#ff80ff" stroke-width="6.3999999999999995" stroke-linecap="round"/>
<polygon points="1696.3,621.7 1670.8,606.2 1670.8,637.2" fill="#ff80ff"/>
<text x="1765.5" y="643.9" font-size="60.5">43<tspan class="deg" x="1837.8" font-size="60">℃</tspan></text>
<line x1="1612.5" y1="702.4" x2="1749" y2="702.4" stroke="#000080" stroke-width="6.0" stroke-linecap="round"/>
<rect x="1669.6" y="691.7" width="21.4" height="21.4" fill="#ffffff" stroke="#000080" stroke-width="1.7" stroke-linejoin="miter"/>
<text x="1765.5" y="724.6" font-size="60.5">41<tspan class="deg" x="1837.8" font-size="60">℃</tspan></text>
<line x1="1612.5" y1="783.1" x2="1749" y2="783.1" stroke="#990090" stroke-width="6.6" stroke-linecap="round"/>
<circle cx="1680.3" cy="783.1" r="10.9" fill="#ffffff" stroke="#990090" stroke-width="1.7" stroke-linejoin="miter"/>
<text x="1765.5" y="805.3" font-size="60.5">39<tspan class="deg" x="1837.8" font-size="60">℃</tspan></text>
<line x1="1612.5" y1="863.8" x2="1749" y2="863.8" stroke="#a00000" stroke-width="6.199999999999999" stroke-linecap="round"/>
<polygon points="1680.3,846.2 1666.0,872.7 1694.5,872.7" fill="#ffffff" stroke="#a00000" stroke-width="1.7" stroke-linejoin="miter"/>
<text x="1765.5" y="886.0" font-size="60.5">35<tspan class="deg" x="1837.8" font-size="60">℃</tspan></text>
<line x1="1612.5" y1="944.6" x2="1749" y2="944.6" stroke="#008a00" stroke-width="7.6" stroke-linecap="round"/>
<polygon points="1680.3,962.2 1666.0,935.7 1694.5,935.7" fill="#ffffff" stroke="#008a00" stroke-width="1.7" stroke-linejoin="miter"/>
<text x="1765.5" y="966.8" font-size="60.5">31<tspan class="deg" x="1837.8" font-size="60">℃</tspan></text>
<line x1="1612.5" y1="1025.3" x2="1749" y2="1025.3" stroke="#0000b0" stroke-width="7.3" stroke-linecap="round"/>
<polygon points="1665.6,1025.3 1689.1,1010.8 1689.1,1039.8" fill="#ffffff" stroke="#0000b0" stroke-width="1.7" stroke-linejoin="miter"/>
<text x="1765.5" y="1047.5" font-size="60.5">29<tspan class="deg" x="1837.8" font-size="60">℃</tspan></text>
<line x1="1612.5" y1="1106.0" x2="1749" y2="1106.0" stroke="#000000" stroke-width="6.8" stroke-linecap="round"/>
<polygon points="1695.0,1106.0 1671.5,1091.5 1671.5,1120.5" fill="#ffffff" stroke="#000000" stroke-width="1.7" stroke-linejoin="miter"/>
<text x="1765.5" y="1128.2" font-size="60.5">27<tspan class="deg" x="1837.8" font-size="60">℃</tspan></text>
</g>
</svg></body></html>
